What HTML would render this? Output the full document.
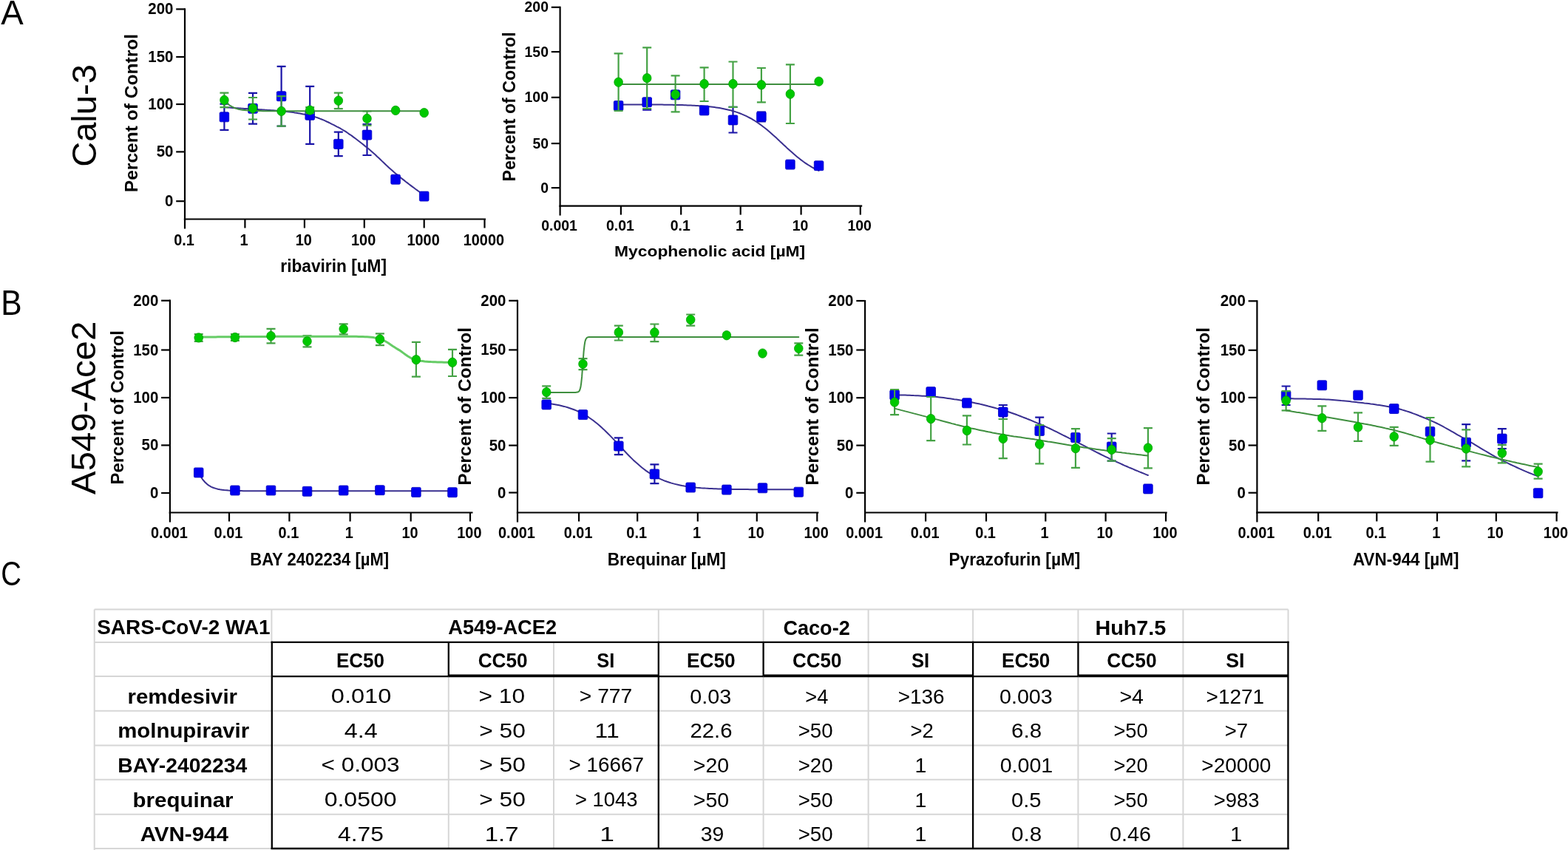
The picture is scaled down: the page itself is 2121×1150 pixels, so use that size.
<!DOCTYPE html>
<html><head><meta charset="utf-8"><title>Figure</title><style>html,body{margin:0;padding:0;background:#fff;}svg{display:block;}#fig{width:2121px;height:1150px;}text{font-family:"Liberation Sans",Arial,sans-serif;}</style></head><body>
<div id="fig"><svg width="2121" height="1150" viewBox="0 0 2121 1150" font-family="'Liberation Sans', Arial, sans-serif">
<rect width="2121" height="1150" fill="#fff"/>
<text x="1.30" y="33.00" font-size="46" font-weight="normal" textLength="30.49" lengthAdjust="spacingAndGlyphs" fill="#000">A</text>
<text x="1.31" y="426.20" font-size="47.5" font-weight="normal" textLength="28.30" lengthAdjust="spacingAndGlyphs" fill="#000">B</text>
<text x="1.19" y="792.30" font-size="47" font-weight="normal" textLength="27.64" lengthAdjust="spacingAndGlyphs" fill="#000">C</text>
<text transform="translate(129.60,225.86) rotate(-90)" x="0" y="0" font-size="46" font-weight="normal" textLength="138.80" lengthAdjust="spacingAndGlyphs">Calu-3</text>
<text transform="translate(129.10,668.90) rotate(-90)" x="0" y="0" font-size="46" font-weight="normal" textLength="234.16" lengthAdjust="spacingAndGlyphs">A549-Ace2</text>
<g stroke="#000" stroke-width="2.2" fill="none" stroke-linecap="butt">
<path d="M250.0 11.3 V297.6"/>
<path d="M248.9 296.5 H657.0"/>
<path d="M238.2 12.4 H250.0"/>
<path d="M238.2 77.0 H250.0"/>
<path d="M238.2 141.0 H250.0"/>
<path d="M238.2 205.4 H250.0"/>
<path d="M238.2 272.2 H250.0"/>
<path d="M250.0 296.5 V309.5"/>
<path d="M331.4 296.5 V308.5"/>
<path d="M411.9 296.5 V308.5"/>
<path d="M492.8 296.5 V308.5"/>
<path d="M573.7 296.5 V308.5"/>
<path d="M655.5 296.5 V308.5"/>
</g>
<text x="200.27" y="19.44" font-size="21.3" font-weight="bold" textLength="34.12" lengthAdjust="spacingAndGlyphs" fill="#000">200</text>
<text x="200.27" y="84.04" font-size="21.3" font-weight="bold" textLength="34.12" lengthAdjust="spacingAndGlyphs" fill="#000">150</text>
<text x="200.27" y="148.04" font-size="21.3" font-weight="bold" textLength="34.12" lengthAdjust="spacingAndGlyphs" fill="#000">100</text>
<text x="211.67" y="212.44" font-size="21.3" font-weight="bold" textLength="22.75" lengthAdjust="spacingAndGlyphs" fill="#000">50</text>
<text x="223.02" y="279.24" font-size="21.3" font-weight="bold" textLength="11.37" lengthAdjust="spacingAndGlyphs" fill="#000">0</text>
<text x="235.13" y="331.60" font-size="21.3" font-weight="bold" textLength="27.69" lengthAdjust="spacingAndGlyphs" fill="#000">0.1</text>
<text x="324.60" y="331.60" font-size="21.3" font-weight="bold" textLength="11.08" lengthAdjust="spacingAndGlyphs" fill="#000">1</text>
<text x="399.70" y="331.60" font-size="21.3" font-weight="bold" textLength="22.15" lengthAdjust="spacingAndGlyphs" fill="#000">10</text>
<text x="475.05" y="331.60" font-size="21.3" font-weight="bold" textLength="33.23" lengthAdjust="spacingAndGlyphs" fill="#000">100</text>
<text x="550.42" y="331.60" font-size="21.3" font-weight="bold" textLength="44.31" lengthAdjust="spacingAndGlyphs" fill="#000">1000</text>
<text x="626.67" y="331.60" font-size="21.3" font-weight="bold" textLength="55.38" lengthAdjust="spacingAndGlyphs" fill="#000">10000</text>
<text transform="translate(186.30,260.20) rotate(-90)" x="0" y="0" font-size="23.5" font-weight="bold" textLength="214.23" lengthAdjust="spacingAndGlyphs">Percent of Control</text>
<text x="379.32" y="367.70" font-size="23.5" font-weight="bold" textLength="143.75" lengthAdjust="spacingAndGlyphs" fill="#000">ribavirin [uM]</text>
<path d="M303.4 140.7 V175.9 M297.4 140.7 H309.4 M297.4 175.9 H309.4" stroke="#1a14a8" stroke-width="2.2" fill="none"/>
<path d="M342.0 125.9 V167.7 M336.0 125.9 H348.0 M336.0 167.7 H348.0" stroke="#1a14a8" stroke-width="2.2" fill="none"/>
<path d="M380.6 89.8 V170.6 M374.6 89.8 H386.6 M374.6 170.6 H386.6" stroke="#1a14a8" stroke-width="2.2" fill="none"/>
<path d="M419.2 116.8 V194.8 M413.2 116.8 H425.2 M413.2 194.8 H425.2" stroke="#1a14a8" stroke-width="2.2" fill="none"/>
<path d="M457.8 178.6 V211.2 M451.8 178.6 H463.8 M451.8 211.2 H463.8" stroke="#1a14a8" stroke-width="2.2" fill="none"/>
<path d="M496.5 168.0 V210.0 M490.5 168.0 H502.5 M490.5 210.0 H502.5" stroke="#1a14a8" stroke-width="2.2" fill="none"/>
<path d="M303.5 145.2 L305.8 145.3 L308.0 145.5 L310.3 145.6 L312.6 145.7 L314.9 145.9 L317.1 146.0 L319.4 146.2 L321.7 146.3 L323.9 146.4 L326.2 146.6 L328.5 146.7 L330.7 146.9 L333.0 147.0 L335.3 147.2 L337.6 147.3 L339.8 147.5 L342.1 147.6 L344.4 147.8 L346.6 147.9 L348.9 148.0 L351.2 148.2 L353.5 148.3 L355.7 148.4 L358.0 148.6 L360.3 148.7 L362.5 148.9 L364.8 149.0 L367.1 149.2 L369.3 149.3 L371.6 149.5 L373.9 149.7 L376.2 149.9 L378.4 150.1 L380.7 150.3 L383.0 150.5 L385.2 150.7 L387.5 151.0 L389.8 151.2 L392.1 151.5 L394.3 151.8 L396.6 152.1 L398.9 152.5 L401.1 152.8 L403.4 153.2 L405.7 153.6 L407.9 154.0 L410.2 154.4 L412.5 154.8 L414.8 155.3 L417.0 155.8 L419.3 156.3 L421.6 156.9 L423.8 157.5 L426.1 158.2 L428.4 158.9 L430.7 159.7 L432.9 160.6 L435.2 161.5 L437.5 162.4 L439.7 163.4 L442.0 164.5 L444.3 165.5 L446.5 166.6 L448.8 167.8 L451.1 168.9 L453.4 170.1 L455.6 171.3 L457.9 172.4 L460.2 173.7 L462.4 175.0 L464.7 176.3 L467.0 177.7 L469.3 179.2 L471.5 180.8 L473.8 182.3 L476.1 183.9 L478.3 185.6 L480.6 187.3 L482.9 189.0 L485.1 190.7 L487.4 192.5 L489.7 194.3 L492.0 196.1 L494.2 197.9 L496.5 199.7 L498.8 201.5 L501.0 203.4 L503.3 205.4 L505.6 207.5 L507.9 209.5 L510.1 211.7 L512.4 213.8 L514.7 216.0 L516.9 218.1 L519.2 220.3 L521.5 222.5 L523.7 224.6 L526.0 226.7 L528.3 228.8 L530.6 230.8 L532.8 232.8 L535.1 234.7 L537.4 236.6 L539.6 238.4 L541.9 240.3 L544.2 242.1 L546.5 243.9 L548.7 245.7 L551.0 247.4 L553.3 249.2 L555.5 250.9 L557.8 252.6 L560.1 254.3 L562.3 256.0 L564.6 257.6 L566.9 259.2 L569.2 260.8 L571.4 262.4 L573.7 264.0" stroke="#3a3090" stroke-width="2.0" fill="none" stroke-linejoin="round" stroke-linecap="round"/>
<rect x="297.1" y="151.8" width="12.6" height="13.0" rx="1.5" fill="#0000f0" stroke="#0000c0" stroke-width="0.8"/>
<rect x="335.7" y="140.3" width="12.6" height="13.0" rx="1.5" fill="#0000f0" stroke="#0000c0" stroke-width="0.8"/>
<rect x="374.3" y="123.7" width="12.6" height="13.0" rx="1.5" fill="#0000f0" stroke="#0000c0" stroke-width="0.8"/>
<rect x="412.9" y="149.3" width="12.6" height="13.0" rx="1.5" fill="#0000f0" stroke="#0000c0" stroke-width="0.8"/>
<rect x="451.5" y="188.4" width="12.6" height="13.0" rx="1.5" fill="#0000f0" stroke="#0000c0" stroke-width="0.8"/>
<rect x="490.2" y="176.1" width="12.6" height="13.0" rx="1.5" fill="#0000f0" stroke="#0000c0" stroke-width="0.8"/>
<rect x="528.8" y="236.2" width="12.6" height="13.0" rx="1.5" fill="#0000f0" stroke="#0000c0" stroke-width="0.8"/>
<rect x="567.4" y="259.1" width="12.6" height="13.0" rx="1.5" fill="#0000f0" stroke="#0000c0" stroke-width="0.8"/>
<path d="M303.4 125.7 V145.1 M297.4 125.7 H309.4 M297.4 145.1 H309.4" stroke="#45a245" stroke-width="2.2" fill="none"/>
<path d="M342.0 132.0 V161.5 M336.0 132.0 H348.0 M336.0 161.5 H348.0" stroke="#45a245" stroke-width="2.2" fill="none"/>
<path d="M380.6 130.1 V170.7 M374.6 130.1 H386.6 M374.6 170.7 H386.6" stroke="#45a245" stroke-width="2.2" fill="none"/>
<path d="M419.2 145.0 V153.2 M413.2 145.0 H425.2 M413.2 153.2 H425.2" stroke="#45a245" stroke-width="2.2" fill="none"/>
<path d="M457.8 125.7 V147.2 M451.8 125.7 H463.8 M451.8 147.2 H463.8" stroke="#45a245" stroke-width="2.2" fill="none"/>
<path d="M496.5 150.5 V169.6 M490.5 150.5 H502.5 M490.5 169.6 H502.5" stroke="#45a245" stroke-width="2.2" fill="none"/>
<path d="M303.5 135.3 L306.2 138.6 L309.0 141.2 L311.7 143.2 L314.4 144.7 L317.1 146.0 L319.9 146.9 L322.6 147.7 L325.3 148.2 L328.1 148.7 L330.8 149.0 L333.5 149.3 L336.3 149.5 L339.0 149.7 L341.7 149.8 L344.4 149.9 L347.2 150.0 L349.9 150.1 L352.6 150.1 L355.4 150.2 L358.1 150.2 L360.8 150.2 L363.5 150.2 L366.3 150.3 L369.0 150.3 L371.7 150.3 L374.5 150.3 L377.2 150.3 L379.9 150.3 L382.6 150.3 L385.4 150.3 L388.1 150.3 L390.8 150.3 L393.6 150.3 L396.3 150.3 L399.0 150.3 L401.8 150.3 L404.5 150.3 L407.2 150.3 L409.9 150.3 L412.7 150.3 L415.4 150.3 L418.1 150.3 L420.9 150.3 L423.6 150.3 L426.3 150.3 L429.0 150.3 L431.8 150.3 L434.5 150.3 L437.2 150.3 L440.0 150.3 L442.7 150.3 L445.4 150.3 L448.2 150.3 L450.9 150.3 L453.6 150.3 L456.3 150.3 L459.1 150.3 L461.8 150.3 L464.5 150.3 L467.3 150.3 L470.0 150.3 L472.7 150.3 L475.4 150.3 L478.2 150.3 L480.9 150.3 L483.6 150.3 L486.4 150.3 L489.1 150.3 L491.8 150.3 L494.6 150.3 L497.3 150.3 L500.0 150.3 L502.7 150.3 L505.5 150.3 L508.2 150.3 L510.9 150.3 L513.7 150.3 L516.4 150.3 L519.1 150.3 L521.8 150.3 L524.6 150.3 L527.3 150.3 L530.0 150.3 L532.8 150.3 L535.5 150.3 L538.2 150.3 L540.9 150.3 L543.7 150.3 L546.4 150.3 L549.1 150.3 L551.9 150.3 L554.6 150.3 L557.3 150.3 L560.1 150.3 L562.8 150.3 L565.5 150.3 L568.2 150.3 L571.0 150.3 L573.7 150.3" stroke="#3f8f3f" stroke-width="2.0" fill="none" stroke-linejoin="round" stroke-linecap="round"/>
<ellipse cx="303.4" cy="135.4" rx="5.8" ry="6.2" fill="#00c800" stroke="#00a000" stroke-width="0.8"/>
<ellipse cx="342.0" cy="146.5" rx="5.8" ry="6.2" fill="#00c800" stroke="#00a000" stroke-width="0.8"/>
<ellipse cx="380.6" cy="150.4" rx="5.8" ry="6.2" fill="#00c800" stroke="#00a000" stroke-width="0.8"/>
<ellipse cx="419.2" cy="149.1" rx="5.8" ry="6.2" fill="#00c800" stroke="#00a000" stroke-width="0.8"/>
<ellipse cx="457.8" cy="136.2" rx="5.8" ry="6.2" fill="#00c800" stroke="#00a000" stroke-width="0.8"/>
<ellipse cx="496.5" cy="160.4" rx="5.8" ry="6.2" fill="#00c800" stroke="#00a000" stroke-width="0.8"/>
<ellipse cx="535.1" cy="149.4" rx="5.8" ry="6.2" fill="#00c800" stroke="#00a000" stroke-width="0.8"/>
<ellipse cx="573.7" cy="152.6" rx="5.8" ry="6.2" fill="#00c800" stroke="#00a000" stroke-width="0.8"/>
<g stroke="#000" stroke-width="2.2" fill="none" stroke-linecap="butt">
<path d="M757.6 8.7 V279.7"/>
<path d="M756.5 278.6 H1166.2"/>
<path d="M745.8 9.8 H757.6"/>
<path d="M745.8 70.1 H757.6"/>
<path d="M745.8 131.8 H757.6"/>
<path d="M745.8 194.1 H757.6"/>
<path d="M745.8 254.1 H757.6"/>
<path d="M757.6 278.6 V291.6"/>
<path d="M839.9 278.6 V290.6"/>
<path d="M921.2 278.6 V290.6"/>
<path d="M1001.7 278.6 V290.6"/>
<path d="M1083.6 278.6 V290.6"/>
<path d="M1163.8 278.6 V290.6"/>
</g>
<text x="709.58" y="16.38" font-size="20" font-weight="bold" textLength="32.37" lengthAdjust="spacingAndGlyphs" fill="#000">200</text>
<text x="709.58" y="76.68" font-size="20" font-weight="bold" textLength="32.37" lengthAdjust="spacingAndGlyphs" fill="#000">150</text>
<text x="709.58" y="138.38" font-size="20" font-weight="bold" textLength="32.37" lengthAdjust="spacingAndGlyphs" fill="#000">100</text>
<text x="720.39" y="200.68" font-size="20" font-weight="bold" textLength="21.58" lengthAdjust="spacingAndGlyphs" fill="#000">50</text>
<text x="731.16" y="260.68" font-size="20" font-weight="bold" textLength="10.79" lengthAdjust="spacingAndGlyphs" fill="#000">0</text>
<text x="732.18" y="312.40" font-size="20" font-weight="bold" textLength="48.80" lengthAdjust="spacingAndGlyphs" fill="#000">0.001</text>
<text x="819.91" y="312.40" font-size="20" font-weight="bold" textLength="37.95" lengthAdjust="spacingAndGlyphs" fill="#000">0.01</text>
<text x="906.63" y="312.40" font-size="20" font-weight="bold" textLength="27.11" lengthAdjust="spacingAndGlyphs" fill="#000">0.1</text>
<text x="995.02" y="312.40" font-size="20" font-weight="bold" textLength="10.85" lengthAdjust="spacingAndGlyphs" fill="#000">1</text>
<text x="1071.63" y="312.40" font-size="20" font-weight="bold" textLength="21.69" lengthAdjust="spacingAndGlyphs" fill="#000">10</text>
<text x="1146.40" y="312.40" font-size="20" font-weight="bold" textLength="32.54" lengthAdjust="spacingAndGlyphs" fill="#000">100</text>
<text transform="translate(697.00,245.51) rotate(-90)" x="0" y="0" font-size="23.5" font-weight="bold" textLength="202.14" lengthAdjust="spacingAndGlyphs">Percent of Control</text>
<text x="831.01" y="347.10" font-size="20.5" font-weight="bold" textLength="258.23" lengthAdjust="spacingAndGlyphs" fill="#000">Mycophenolic acid [µM]</text>
<path d="M836.6 139.5 V146.5 M830.6 139.5 H842.6 M830.6 146.5 H842.6" stroke="#1a14a8" stroke-width="2.2" fill="none"/>
<path d="M875.2 133.0 V148.7 M869.2 133.0 H881.2 M869.2 148.7 H881.2" stroke="#1a14a8" stroke-width="2.2" fill="none"/>
<path d="M913.6 124.0 V132.6 M907.6 124.0 H919.6 M907.6 132.6 H919.6" stroke="#1a14a8" stroke-width="2.2" fill="none"/>
<path d="M952.6 146.0 V152.8 M946.6 146.0 H958.6 M946.6 152.8 H958.6" stroke="#1a14a8" stroke-width="2.2" fill="none"/>
<path d="M991.5 144.8 V179.5 M985.5 144.8 H997.5 M985.5 179.5 H997.5" stroke="#1a14a8" stroke-width="2.2" fill="none"/>
<path d="M1029.9 151.5 V164.5 M1023.9 151.5 H1035.9 M1023.9 164.5 H1035.9" stroke="#1a14a8" stroke-width="2.2" fill="none"/>
<path d="M836.6 141.4 L838.9 141.4 L841.2 141.4 L843.4 141.4 L845.7 141.4 L848.0 141.4 L850.3 141.4 L852.5 141.4 L854.8 141.4 L857.1 141.4 L859.4 141.4 L861.7 141.4 L863.9 141.4 L866.2 141.4 L868.5 141.4 L870.8 141.4 L873.0 141.5 L875.3 141.5 L877.6 141.5 L879.9 141.5 L882.1 141.5 L884.4 141.5 L886.7 141.5 L889.0 141.6 L891.3 141.6 L893.5 141.6 L895.8 141.6 L898.1 141.7 L900.4 141.7 L902.6 141.7 L904.9 141.7 L907.2 141.8 L909.5 141.8 L911.8 141.9 L914.0 141.9 L916.3 142.0 L918.6 142.0 L920.9 142.1 L923.1 142.1 L925.4 142.2 L927.7 142.3 L930.0 142.4 L932.2 142.5 L934.5 142.5 L936.8 142.7 L939.1 142.8 L941.4 142.9 L943.6 143.0 L945.9 143.2 L948.2 143.3 L950.5 143.5 L952.7 143.7 L955.0 143.9 L957.3 144.1 L959.6 144.3 L961.9 144.5 L964.1 144.8 L966.4 145.1 L968.7 145.4 L971.0 145.7 L973.2 146.1 L975.5 146.5 L977.8 146.9 L980.1 147.4 L982.3 147.9 L984.6 148.4 L986.9 148.9 L989.2 149.5 L991.5 150.2 L993.7 150.9 L996.0 151.6 L998.3 152.4 L1000.6 153.2 L1002.8 154.1 L1005.1 155.1 L1007.4 156.1 L1009.7 157.1 L1012.0 158.3 L1014.2 159.5 L1016.5 160.7 L1018.8 162.1 L1021.1 163.5 L1023.3 164.9 L1025.6 166.5 L1027.9 168.1 L1030.2 169.7 L1032.4 171.5 L1034.7 173.2 L1037.0 175.1 L1039.3 177.0 L1041.6 178.9 L1043.8 180.9 L1046.1 183.0 L1048.4 185.0 L1050.7 187.1 L1052.9 189.2 L1055.2 191.4 L1057.5 193.5 L1059.8 195.7 L1062.1 197.8 L1064.3 199.9 L1066.6 202.0 L1068.9 204.1 L1071.2 206.1 L1073.4 208.1 L1075.7 210.0 L1078.0 211.9 L1080.3 213.8 L1082.5 215.6 L1084.8 217.3 L1087.1 219.0 L1089.4 220.6 L1091.7 222.1 L1093.9 223.5 L1096.2 224.9 L1098.5 226.3 L1100.8 227.5 L1103.0 228.7 L1105.3 229.9 L1107.6 230.9" stroke="#3a3090" stroke-width="2.0" fill="none" stroke-linejoin="round" stroke-linecap="round"/>
<rect x="830.3" y="136.5" width="12.6" height="13.0" rx="1.5" fill="#0000f0" stroke="#0000c0" stroke-width="0.8"/>
<rect x="868.9" y="131.7" width="12.6" height="13.0" rx="1.5" fill="#0000f0" stroke="#0000c0" stroke-width="0.8"/>
<rect x="907.3" y="121.8" width="12.6" height="13.0" rx="1.5" fill="#0000f0" stroke="#0000c0" stroke-width="0.8"/>
<rect x="946.3" y="142.9" width="12.6" height="13.0" rx="1.5" fill="#0000f0" stroke="#0000c0" stroke-width="0.8"/>
<rect x="985.2" y="155.9" width="12.6" height="13.0" rx="1.5" fill="#0000f0" stroke="#0000c0" stroke-width="0.8"/>
<rect x="1023.6" y="151.3" width="12.6" height="13.0" rx="1.5" fill="#0000f0" stroke="#0000c0" stroke-width="0.8"/>
<rect x="1062.6" y="216.1" width="12.6" height="13.0" rx="1.5" fill="#0000f0" stroke="#0000c0" stroke-width="0.8"/>
<rect x="1101.3" y="217.7" width="12.6" height="13.0" rx="1.5" fill="#0000f0" stroke="#0000c0" stroke-width="0.8"/>
<path d="M836.6 72.4 V150.0 M830.6 72.4 H842.6 M830.6 150.0 H842.6" stroke="#45a245" stroke-width="2.2" fill="none"/>
<path d="M875.2 64.4 V147.0 M869.2 64.4 H881.2 M869.2 147.0 H881.2" stroke="#45a245" stroke-width="2.2" fill="none"/>
<path d="M913.6 102.4 V151.3 M907.6 102.4 H919.6 M907.6 151.3 H919.6" stroke="#45a245" stroke-width="2.2" fill="none"/>
<path d="M952.6 91.3 V137.0 M946.6 91.3 H958.6 M946.6 137.0 H958.6" stroke="#45a245" stroke-width="2.2" fill="none"/>
<path d="M991.5 83.5 V144.8 M985.5 83.5 H997.5 M985.5 144.8 H997.5" stroke="#45a245" stroke-width="2.2" fill="none"/>
<path d="M1029.9 92.0 V138.3 M1023.9 92.0 H1035.9 M1023.9 138.3 H1035.9" stroke="#45a245" stroke-width="2.2" fill="none"/>
<path d="M1068.9 87.4 V167.0 M1062.9 87.4 H1074.9 M1062.9 167.0 H1074.9" stroke="#45a245" stroke-width="2.2" fill="none"/>
<path d="M836.6 114.1 L1107.6 114.1" stroke="#3f8f3f" stroke-width="2.0" fill="none" stroke-linejoin="round" stroke-linecap="round"/>
<ellipse cx="836.6" cy="111.2" rx="5.8" ry="6.2" fill="#00c800" stroke="#00a000" stroke-width="0.8"/>
<ellipse cx="875.2" cy="105.7" rx="5.8" ry="6.2" fill="#00c800" stroke="#00a000" stroke-width="0.8"/>
<ellipse cx="913.6" cy="127.8" rx="5.8" ry="6.2" fill="#00c800" stroke="#00a000" stroke-width="0.8"/>
<ellipse cx="952.6" cy="113.5" rx="5.8" ry="6.2" fill="#00c800" stroke="#00a000" stroke-width="0.8"/>
<ellipse cx="991.5" cy="113.5" rx="5.8" ry="6.2" fill="#00c800" stroke="#00a000" stroke-width="0.8"/>
<ellipse cx="1029.9" cy="114.8" rx="5.8" ry="6.2" fill="#00c800" stroke="#00a000" stroke-width="0.8"/>
<ellipse cx="1068.9" cy="127.2" rx="5.8" ry="6.2" fill="#00c800" stroke="#00a000" stroke-width="0.8"/>
<ellipse cx="1107.6" cy="110.2" rx="5.8" ry="6.2" fill="#00c800" stroke="#00a000" stroke-width="0.8"/>
<g stroke="#000" stroke-width="2.2" fill="none" stroke-linecap="butt">
<path d="M229.9 405.6 V694.6"/>
<path d="M228.8 693.5 H639.5"/>
<path d="M218.1 406.7 H229.9"/>
<path d="M218.1 473.5 H229.9"/>
<path d="M218.1 538.0 H229.9"/>
<path d="M218.1 602.4 H229.9"/>
<path d="M218.1 667.0 H229.9"/>
<path d="M229.9 693.5 V706.5"/>
<path d="M310.0 693.5 V705.5"/>
<path d="M391.4 693.5 V705.5"/>
<path d="M473.6 693.5 V705.5"/>
<path d="M555.7 693.5 V705.5"/>
<path d="M636.0 693.5 V705.5"/>
</g>
<text x="180.17" y="413.74" font-size="21.3" font-weight="bold" textLength="34.12" lengthAdjust="spacingAndGlyphs" fill="#000">200</text>
<text x="180.17" y="480.54" font-size="21.3" font-weight="bold" textLength="34.12" lengthAdjust="spacingAndGlyphs" fill="#000">150</text>
<text x="180.17" y="545.04" font-size="21.3" font-weight="bold" textLength="34.12" lengthAdjust="spacingAndGlyphs" fill="#000">100</text>
<text x="191.57" y="609.44" font-size="21.3" font-weight="bold" textLength="22.75" lengthAdjust="spacingAndGlyphs" fill="#000">50</text>
<text x="202.92" y="674.04" font-size="21.3" font-weight="bold" textLength="11.37" lengthAdjust="spacingAndGlyphs" fill="#000">0</text>
<text x="203.96" y="728.30" font-size="21.3" font-weight="bold" textLength="49.84" lengthAdjust="spacingAndGlyphs" fill="#000">0.001</text>
<text x="289.61" y="728.30" font-size="21.3" font-weight="bold" textLength="38.76" lengthAdjust="spacingAndGlyphs" fill="#000">0.01</text>
<text x="376.53" y="728.30" font-size="21.3" font-weight="bold" textLength="27.69" lengthAdjust="spacingAndGlyphs" fill="#000">0.1</text>
<text x="466.80" y="728.30" font-size="21.3" font-weight="bold" textLength="11.08" lengthAdjust="spacingAndGlyphs" fill="#000">1</text>
<text x="543.50" y="728.30" font-size="21.3" font-weight="bold" textLength="22.15" lengthAdjust="spacingAndGlyphs" fill="#000">10</text>
<text x="618.25" y="728.30" font-size="21.3" font-weight="bold" textLength="33.23" lengthAdjust="spacingAndGlyphs" fill="#000">100</text>
<text transform="translate(166.60,655.45) rotate(-90)" x="0" y="0" font-size="23.5" font-weight="bold" textLength="208.44" lengthAdjust="spacingAndGlyphs">Percent of Control</text>
<text x="338.27" y="765.30" font-size="23.5" font-weight="bold" textLength="187.86" lengthAdjust="spacingAndGlyphs" fill="#000">BAY 2402234 [µM]</text>
<path d="M268.7 639.3 L271.6 644.8 L274.5 649.2 L277.4 652.5 L280.2 655.1 L283.1 657.2 L286.0 658.8 L288.9 660.0 L291.8 660.9 L294.7 661.7 L297.5 662.3 L300.4 662.7 L303.3 663.1 L306.2 663.3 L309.1 663.6 L312.0 663.7 L314.9 663.8 L317.7 663.9 L320.6 664.0 L323.5 664.1 L326.4 664.1 L329.3 664.2 L332.2 664.2 L335.1 664.2 L337.9 664.2 L340.8 664.3 L343.7 664.3 L346.6 664.3 L349.5 664.3 L352.4 664.3 L355.2 664.3 L358.1 664.3 L361.0 664.3 L363.9 664.3 L366.8 664.3 L369.7 664.3 L372.6 664.3 L375.4 664.3 L378.3 664.3 L381.2 664.3 L384.1 664.3 L387.0 664.3 L389.9 664.3 L392.7 664.3 L395.6 664.3 L398.5 664.3 L401.4 664.3 L404.3 664.3 L407.2 664.3 L410.1 664.3 L412.9 664.3 L415.8 664.3 L418.7 664.3 L421.6 664.3 L424.5 664.3 L427.4 664.3 L430.3 664.3 L433.1 664.3 L436.0 664.3 L438.9 664.3 L441.8 664.3 L444.7 664.3 L447.6 664.3 L450.4 664.3 L453.3 664.3 L456.2 664.3 L459.1 664.3 L462.0 664.3 L464.9 664.3 L467.8 664.3 L470.6 664.3 L473.5 664.3 L476.4 664.3 L479.3 664.3 L482.2 664.3 L485.1 664.3 L488.0 664.3 L490.8 664.3 L493.7 664.3 L496.6 664.3 L499.5 664.3 L502.4 664.3 L505.3 664.3 L508.1 664.3 L511.0 664.3 L513.9 664.3 L516.8 664.3 L519.7 664.3 L522.6 664.3 L525.5 664.3 L528.3 664.3 L531.2 664.3 L534.1 664.3 L537.0 664.3 L539.9 664.3 L542.8 664.3 L545.6 664.3 L548.5 664.3 L551.4 664.3 L554.3 664.3 L557.2 664.3 L560.1 664.3 L563.0 664.3 L565.8 664.3 L568.7 664.3 L571.6 664.3 L574.5 664.3 L577.4 664.3 L580.3 664.3 L583.2 664.3 L586.0 664.3 L588.9 664.3 L591.8 664.3 L594.7 664.3 L597.6 664.3 L600.5 664.3 L603.3 664.3 L606.2 664.3 L609.1 664.3 L612.0 664.3" stroke="#3a3090" stroke-width="2.0" fill="none" stroke-linejoin="round" stroke-linecap="round"/>
<rect x="262.4" y="632.9" width="12.6" height="13.0" rx="1.5" fill="#0000f0" stroke="#0000c0" stroke-width="0.8"/>
<rect x="311.6" y="657.0" width="12.6" height="13.0" rx="1.5" fill="#0000f0" stroke="#0000c0" stroke-width="0.8"/>
<rect x="360.2" y="657.0" width="12.6" height="13.0" rx="1.5" fill="#0000f0" stroke="#0000c0" stroke-width="0.8"/>
<rect x="409.2" y="658.3" width="12.6" height="13.0" rx="1.5" fill="#0000f0" stroke="#0000c0" stroke-width="0.8"/>
<rect x="458.4" y="657.0" width="12.6" height="13.0" rx="1.5" fill="#0000f0" stroke="#0000c0" stroke-width="0.8"/>
<rect x="507.6" y="656.7" width="12.6" height="13.0" rx="1.5" fill="#0000f0" stroke="#0000c0" stroke-width="0.8"/>
<rect x="556.6" y="659.4" width="12.6" height="13.0" rx="1.5" fill="#0000f0" stroke="#0000c0" stroke-width="0.8"/>
<rect x="605.7" y="659.7" width="12.6" height="13.0" rx="1.5" fill="#0000f0" stroke="#0000c0" stroke-width="0.8"/>
<path d="M268.7 452.0 V461.8 M262.7 452.0 H274.7 M262.7 461.8 H274.7" stroke="#45a245" stroke-width="2.2" fill="none"/>
<path d="M317.9 452.0 V461.0 M311.9 452.0 H323.9 M311.9 461.0 H323.9" stroke="#45a245" stroke-width="2.2" fill="none"/>
<path d="M366.5 444.8 V464.4 M360.5 444.8 H372.5 M360.5 464.4 H372.5" stroke="#45a245" stroke-width="2.2" fill="none"/>
<path d="M415.5 454.2 V469.3 M409.5 454.2 H421.5 M409.5 469.3 H421.5" stroke="#45a245" stroke-width="2.2" fill="none"/>
<path d="M464.7 438.4 V452.3 M458.7 438.4 H470.7 M458.7 452.3 H470.7" stroke="#45a245" stroke-width="2.2" fill="none"/>
<path d="M513.9 451.3 V467.1 M507.9 451.3 H519.9 M507.9 467.1 H519.9" stroke="#45a245" stroke-width="2.2" fill="none"/>
<path d="M562.9 462.8 V509.7 M556.9 462.8 H568.9 M556.9 509.7 H568.9" stroke="#45a245" stroke-width="2.2" fill="none"/>
<path d="M612.0 472.8 V509.0 M606.0 472.8 H618.0 M606.0 509.0 H618.0" stroke="#45a245" stroke-width="2.2" fill="none"/>
<path d="M268.7 456.2 L271.6 456.2 L274.5 456.1 L277.4 456.1 L280.2 456.0 L283.1 456.0 L286.0 456.0 L288.9 455.9 L291.8 455.9 L294.7 455.8 L297.5 455.8 L300.4 455.8 L303.3 455.7 L306.2 455.7 L309.1 455.7 L312.0 455.7 L314.9 455.6 L317.7 455.6 L320.6 455.6 L323.5 455.6 L326.4 455.6 L329.3 455.5 L332.2 455.5 L335.1 455.5 L337.9 455.5 L340.8 455.5 L343.7 455.5 L346.6 455.4 L349.5 455.4 L352.4 455.4 L355.2 455.4 L358.1 455.4 L361.0 455.4 L363.9 455.3 L366.8 455.3 L369.7 455.3 L372.6 455.3 L375.4 455.3 L378.3 455.3 L381.2 455.3 L384.1 455.3 L387.0 455.3 L389.9 455.2 L392.7 455.2 L395.6 455.2 L398.5 455.2 L401.4 455.2 L404.3 455.2 L407.2 455.2 L410.1 455.2 L412.9 455.2 L415.8 455.2 L418.7 455.2 L421.6 455.2 L424.5 455.2 L427.4 455.2 L430.3 455.2 L433.1 455.2 L436.0 455.2 L438.9 455.2 L441.8 455.2 L444.7 455.2 L447.6 455.2 L450.4 455.2 L453.3 455.2 L456.2 455.2 L459.1 455.2 L462.0 455.2 L464.9 455.3 L467.8 455.3 L470.6 455.3 L473.5 455.3 L476.4 455.3 L479.3 455.3 L482.2 455.3 L485.1 455.4 L488.0 455.4 L490.8 455.5 L493.7 455.7 L496.6 455.8 L499.5 456.0 L502.4 456.2 L505.3 456.6 L508.1 457.2 L511.0 457.9 L513.9 458.6 L516.8 459.6 L519.7 460.9 L522.6 462.5 L525.5 464.3 L528.3 466.2 L531.2 468.2 L534.1 470.1 L537.0 471.9 L539.9 473.6 L542.8 475.6 L545.6 477.6 L548.5 479.7 L551.4 481.7 L554.3 483.5 L557.2 485.1 L560.1 486.4 L563.0 487.2 L565.8 487.7 L568.7 488.2 L571.6 488.6 L574.5 489.0 L577.4 489.2 L580.3 489.4 L583.2 489.6 L586.0 489.7 L588.9 489.8 L591.8 489.9 L594.7 490.0 L597.6 490.1 L600.5 490.2 L603.3 490.2 L606.2 490.3 L609.1 490.3 L612.0 490.3" stroke="#66cc66" stroke-width="3.0" fill="none" stroke-linejoin="round" stroke-linecap="round"/>
<ellipse cx="268.7" cy="456.9" rx="5.8" ry="6.2" fill="#00c800" stroke="#00a000" stroke-width="0.8"/>
<ellipse cx="317.9" cy="456.5" rx="5.8" ry="6.2" fill="#00c800" stroke="#00a000" stroke-width="0.8"/>
<ellipse cx="366.5" cy="454.6" rx="5.8" ry="6.2" fill="#00c800" stroke="#00a000" stroke-width="0.8"/>
<ellipse cx="415.5" cy="461.7" rx="5.8" ry="6.2" fill="#00c800" stroke="#00a000" stroke-width="0.8"/>
<ellipse cx="464.7" cy="445.1" rx="5.8" ry="6.2" fill="#00c800" stroke="#00a000" stroke-width="0.8"/>
<ellipse cx="513.9" cy="459.0" rx="5.8" ry="6.2" fill="#00c800" stroke="#00a000" stroke-width="0.8"/>
<ellipse cx="562.9" cy="486.7" rx="5.8" ry="6.2" fill="#00c800" stroke="#00a000" stroke-width="0.8"/>
<ellipse cx="612.0" cy="490.3" rx="5.8" ry="6.2" fill="#00c800" stroke="#00a000" stroke-width="0.8"/>
<g stroke="#000" stroke-width="2.2" fill="none" stroke-linecap="butt">
<path d="M700.0 405.7 V694.6"/>
<path d="M698.9 693.5 H1107.3"/>
<path d="M688.2 406.8 H700.0"/>
<path d="M688.2 473.4 H700.0"/>
<path d="M688.2 538.1 H700.0"/>
<path d="M688.2 602.6 H700.0"/>
<path d="M688.2 666.5 H700.0"/>
<path d="M700.0 693.5 V706.5"/>
<path d="M783.1 693.5 V705.5"/>
<path d="M862.2 693.5 V705.5"/>
<path d="M943.8 693.5 V705.5"/>
<path d="M1023.8 693.5 V705.5"/>
<path d="M1105.3 693.5 V705.5"/>
</g>
<text x="650.27" y="413.84" font-size="21.3" font-weight="bold" textLength="34.12" lengthAdjust="spacingAndGlyphs" fill="#000">200</text>
<text x="650.27" y="480.44" font-size="21.3" font-weight="bold" textLength="34.12" lengthAdjust="spacingAndGlyphs" fill="#000">150</text>
<text x="650.27" y="545.14" font-size="21.3" font-weight="bold" textLength="34.12" lengthAdjust="spacingAndGlyphs" fill="#000">100</text>
<text x="661.67" y="609.64" font-size="21.3" font-weight="bold" textLength="22.75" lengthAdjust="spacingAndGlyphs" fill="#000">50</text>
<text x="673.02" y="673.54" font-size="21.3" font-weight="bold" textLength="11.37" lengthAdjust="spacingAndGlyphs" fill="#000">0</text>
<text x="674.06" y="728.30" font-size="21.3" font-weight="bold" textLength="49.84" lengthAdjust="spacingAndGlyphs" fill="#000">0.001</text>
<text x="762.71" y="728.30" font-size="21.3" font-weight="bold" textLength="38.76" lengthAdjust="spacingAndGlyphs" fill="#000">0.01</text>
<text x="847.33" y="728.30" font-size="21.3" font-weight="bold" textLength="27.69" lengthAdjust="spacingAndGlyphs" fill="#000">0.1</text>
<text x="937.00" y="728.30" font-size="21.3" font-weight="bold" textLength="11.08" lengthAdjust="spacingAndGlyphs" fill="#000">1</text>
<text x="1011.60" y="728.30" font-size="21.3" font-weight="bold" textLength="22.15" lengthAdjust="spacingAndGlyphs" fill="#000">10</text>
<text x="1087.55" y="728.30" font-size="21.3" font-weight="bold" textLength="33.23" lengthAdjust="spacingAndGlyphs" fill="#000">100</text>
<text transform="translate(636.70,656.69) rotate(-90)" x="0" y="0" font-size="23.5" font-weight="bold" textLength="213.82" lengthAdjust="spacingAndGlyphs">Percent of Control</text>
<text x="821.63" y="765.40" font-size="23.5" font-weight="bold" textLength="160.25" lengthAdjust="spacingAndGlyphs" fill="#000">Brequinar [µM]</text>
<path d="M836.8 592.4 V615.2 M830.8 592.4 H842.8 M830.8 615.2 H842.8" stroke="#1a14a8" stroke-width="2.2" fill="none"/>
<path d="M885.4 628.3 V654.2 M879.4 628.3 H891.4 M879.4 654.2 H891.4" stroke="#1a14a8" stroke-width="2.2" fill="none"/>
<path d="M739.2 545.5 L742.1 545.9 L744.9 546.3 L747.8 546.7 L750.7 547.2 L753.5 547.7 L756.4 548.3 L759.3 549.0 L762.1 549.7 L765.0 550.4 L767.9 551.3 L770.7 552.2 L773.6 553.2 L776.5 554.3 L779.3 555.4 L782.2 556.7 L785.1 558.1 L787.9 559.6 L790.8 561.2 L793.7 562.9 L796.5 564.7 L799.4 566.7 L802.3 568.8 L805.1 571.0 L808.0 573.3 L810.9 575.7 L813.7 578.3 L816.6 580.9 L819.5 583.7 L822.3 586.5 L825.2 589.4 L828.1 592.4 L830.9 595.4 L833.8 598.5 L836.7 601.6 L839.5 604.6 L842.4 607.7 L845.3 610.8 L848.1 613.8 L851.0 616.7 L853.9 619.6 L856.7 622.4 L859.6 625.1 L862.5 627.6 L865.3 630.1 L868.2 632.5 L871.1 634.7 L873.9 636.9 L876.8 638.9 L879.7 640.7 L882.5 642.5 L885.4 644.1 L888.3 645.7 L891.1 647.1 L894.0 648.4 L896.9 649.6 L899.7 650.8 L902.6 651.8 L905.5 652.7 L908.3 653.6 L911.2 654.4 L914.0 655.1 L916.9 655.8 L919.8 656.4 L922.6 657.0 L925.5 657.5 L928.4 657.9 L931.2 658.4 L934.1 658.7 L937.0 659.1 L939.8 659.4 L942.7 659.7 L945.6 659.9 L948.4 660.2 L951.3 660.4 L954.2 660.6 L957.0 660.7 L959.9 660.9 L962.8 661.0 L965.6 661.2 L968.5 661.3 L971.4 661.4 L974.2 661.5 L977.1 661.6 L980.0 661.7 L982.8 661.7 L985.7 661.8 L988.6 661.8 L991.4 661.9 L994.3 661.9 L997.2 662.0 L1000.0 662.0 L1002.9 662.1 L1005.8 662.1 L1008.6 662.1 L1011.5 662.1 L1014.4 662.2 L1017.2 662.2 L1020.1 662.2 L1023.0 662.2 L1025.8 662.2 L1028.7 662.2 L1031.6 662.3 L1034.4 662.3 L1037.3 662.3 L1040.2 662.3 L1043.0 662.3 L1045.9 662.3 L1048.8 662.3 L1051.6 662.3 L1054.5 662.3 L1057.4 662.3 L1060.2 662.3 L1063.1 662.3 L1066.0 662.3 L1068.8 662.3 L1071.7 662.3 L1074.6 662.4 L1077.4 662.4 L1080.3 662.4" stroke="#3a3090" stroke-width="2.0" fill="none" stroke-linejoin="round" stroke-linecap="round"/>
<rect x="732.9" y="540.9" width="12.6" height="13.0" rx="1.5" fill="#0000f0" stroke="#0000c0" stroke-width="0.8"/>
<rect x="782.2" y="554.6" width="12.6" height="13.0" rx="1.5" fill="#0000f0" stroke="#0000c0" stroke-width="0.8"/>
<rect x="830.5" y="597.0" width="12.6" height="13.0" rx="1.5" fill="#0000f0" stroke="#0000c0" stroke-width="0.8"/>
<rect x="879.1" y="634.9" width="12.6" height="13.0" rx="1.5" fill="#0000f0" stroke="#0000c0" stroke-width="0.8"/>
<rect x="927.9" y="653.0" width="12.6" height="13.0" rx="1.5" fill="#0000f0" stroke="#0000c0" stroke-width="0.8"/>
<rect x="976.6" y="656.1" width="12.6" height="13.0" rx="1.5" fill="#0000f0" stroke="#0000c0" stroke-width="0.8"/>
<rect x="1025.2" y="653.8" width="12.6" height="13.0" rx="1.5" fill="#0000f0" stroke="#0000c0" stroke-width="0.8"/>
<rect x="1074.0" y="659.2" width="12.6" height="13.0" rx="1.5" fill="#0000f0" stroke="#0000c0" stroke-width="0.8"/>
<path d="M739.2 522.4 V538.8 M733.2 522.4 H745.2 M733.2 538.8 H745.2" stroke="#45a245" stroke-width="2.2" fill="none"/>
<path d="M788.5 485.2 V500.2 M782.5 485.2 H794.5 M782.5 500.2 H794.5" stroke="#45a245" stroke-width="2.2" fill="none"/>
<path d="M836.8 440.6 V460.5 M830.8 440.6 H842.8 M830.8 460.5 H842.8" stroke="#45a245" stroke-width="2.2" fill="none"/>
<path d="M885.4 438.5 V462.2 M879.4 438.5 H891.4 M879.4 462.2 H891.4" stroke="#45a245" stroke-width="2.2" fill="none"/>
<path d="M934.2 425.5 V440.7 M928.2 425.5 H940.2 M928.2 440.7 H940.2" stroke="#45a245" stroke-width="2.2" fill="none"/>
<path d="M1080.3 464.4 V480.6 M1074.3 464.4 H1086.3 M1074.3 480.6 H1086.3" stroke="#45a245" stroke-width="2.2" fill="none"/>
<path d="M739.2 530.9 L740.1 530.9 L740.9 530.9 L741.8 530.9 L742.6 530.9 L743.5 530.9 L744.3 530.9 L745.2 530.9 L746.0 530.9 L746.9 530.9 L747.7 530.9 L748.6 530.9 L749.5 530.9 L750.3 530.9 L751.2 530.9 L752.0 530.9 L752.9 530.9 L753.7 530.9 L754.6 530.9 L755.4 530.9 L756.3 530.9 L757.2 530.9 L758.0 530.9 L758.9 530.9 L759.7 530.9 L760.6 530.9 L761.4 530.9 L762.3 530.9 L763.1 530.9 L764.0 530.9 L764.8 530.9 L765.7 530.9 L766.6 530.9 L767.4 530.9 L768.3 530.9 L769.1 530.9 L770.0 530.9 L770.8 530.9 L771.7 530.9 L772.5 530.9 L773.4 530.9 L774.3 530.9 L775.1 530.9 L776.0 530.9 L776.8 530.9 L777.7 530.9 L778.5 530.9 L779.4 530.8 L780.2 530.7 L781.1 530.6 L781.9 530.3 L782.8 529.8 L783.7 528.9 L784.5 527.0 L785.4 523.8 L786.2 518.3 L787.1 509.9 L787.9 498.7 L788.8 486.5 L789.6 475.6 L790.5 467.6 L791.3 462.5 L792.2 459.4 L793.1 457.8 L793.9 456.9 L794.8 456.4 L795.6 456.2 L796.5 456.0 L797.3 456.0 L798.2 455.9 L799.0 455.9 L799.9 455.9 L800.8 455.9 L801.6 455.9 L802.5 455.9 L803.3 455.9 L804.2 455.9 L805.0 455.9 L805.9 455.9 L806.7 455.9 L807.6 455.9 L808.4 455.9 L809.3 455.9 L810.2 455.9 L811.0 455.9 L811.9 455.9 L812.7 455.9 L813.6 455.9 L814.4 455.9 L815.3 455.9 L816.1 455.9 L817.0 455.9 L817.8 455.9 L818.7 455.9 L819.6 455.9 L820.4 455.9 L821.3 455.9 L822.1 455.9 L823.0 455.9 L823.8 455.9 L824.7 455.9 L825.5 455.9 L826.4 455.9 L827.3 455.9 L828.1 455.9 L829.0 455.9 L829.8 455.9 L830.7 455.9 L831.5 455.9 L832.4 455.9 L833.2 455.9 L834.1 455.9 L834.9 455.9 L835.8 455.9 L836.7 455.9 L837.5 455.9 L838.4 455.9 L839.2 455.9 L840.1 455.9 L840.9 455.9 L841.8 455.9 L842.6 455.9 L843.5 455.9 L844.4 455.9 L845.2 455.9 L846.1 455.9 L846.9 455.9 L847.8 455.9 L848.6 455.9 L849.5 455.9 L850.3 455.9 L851.2 455.9 L852.0 455.9 L852.9 455.9 L853.8 455.9 L854.6 455.9 L855.5 455.9 L856.3 455.9 L857.2 455.9 L858.0 455.9 L858.9 455.9 L859.7 455.9 L860.6 455.9 L861.4 455.9 L862.3 455.9 L863.2 455.9 L864.0 455.9 L864.9 455.9 L865.7 455.9 L866.6 455.9 L867.4 455.9 L868.3 455.9 L869.1 455.9 L870.0 455.9 L870.9 455.9 L871.7 455.9 L872.6 455.9 L873.4 455.9 L874.3 455.9 L875.1 455.9 L876.0 455.9 L876.8 455.9 L877.7 455.9 L878.5 455.9 L879.4 455.9 L880.3 455.9 L881.1 455.9 L882.0 455.9 L882.8 455.9 L883.7 455.9 L884.5 455.9 L885.4 455.9 L886.2 455.9 L887.1 455.9 L888.0 455.9 L888.8 455.9 L889.7 455.9 L890.5 455.9 L891.4 455.9 L892.2 455.9 L893.1 455.9 L893.9 455.9 L894.8 455.9 L895.6 455.9 L896.5 455.9 L897.4 455.9 L898.2 455.9 L899.1 455.9 L899.9 455.9 L900.8 455.9 L901.6 455.9 L902.5 455.9 L903.3 455.9 L904.2 455.9 L905.0 455.9 L905.9 455.9 L906.8 455.9 L907.6 455.9 L908.5 455.9 L909.3 455.9 L910.2 455.9 L911.0 455.9 L911.9 455.9 L912.7 455.9 L913.6 455.9 L914.5 455.9 L915.3 455.9 L916.2 455.9 L917.0 455.9 L917.9 455.9 L918.7 455.9 L919.6 455.9 L920.4 455.9 L921.3 455.9 L922.1 455.9 L923.0 455.9 L923.9 455.9 L924.7 455.9 L925.6 455.9 L926.4 455.9 L927.3 455.9 L928.1 455.9 L929.0 455.9 L929.8 455.9 L930.7 455.9 L931.5 455.9 L932.4 455.9 L933.3 455.9 L934.1 455.9 L935.0 455.9 L935.8 455.9 L936.7 455.9 L937.5 455.9 L938.4 455.9 L939.2 455.9 L940.1 455.9 L941.0 455.9 L941.8 455.9 L942.7 455.9 L943.5 455.9 L944.4 455.9 L945.2 455.9 L946.1 455.9 L946.9 455.9 L947.8 455.9 L948.6 455.9 L949.5 455.9 L950.4 455.9 L951.2 455.9 L952.1 455.9 L952.9 455.9 L953.8 455.9 L954.6 455.9 L955.5 455.9 L956.3 455.9 L957.2 455.9 L958.1 455.9 L958.9 455.9 L959.8 455.9 L960.6 455.9 L961.5 455.9 L962.3 455.9 L963.2 455.9 L964.0 455.9 L964.9 455.9 L965.7 455.9 L966.6 455.9 L967.5 455.9 L968.3 455.9 L969.2 455.9 L970.0 455.9 L970.9 455.9 L971.7 455.9 L972.6 455.9 L973.4 455.9 L974.3 455.9 L975.1 455.9 L976.0 455.9 L976.9 455.9 L977.7 455.9 L978.6 455.9 L979.4 455.9 L980.3 455.9 L981.1 455.9 L982.0 455.9 L982.8 455.9 L983.7 455.9 L984.6 455.9 L985.4 455.9 L986.3 455.9 L987.1 455.9 L988.0 455.9 L988.8 455.9 L989.7 455.9 L990.5 455.9 L991.4 455.9 L992.2 455.9 L993.1 455.9 L994.0 455.9 L994.8 455.9 L995.7 455.9 L996.5 455.9 L997.4 455.9 L998.2 455.9 L999.1 455.9 L999.9 455.9 L1000.8 455.9 L1001.7 455.9 L1002.5 455.9 L1003.4 455.9 L1004.2 455.9 L1005.1 455.9 L1005.9 455.9 L1006.8 455.9 L1007.6 455.9 L1008.5 455.9 L1009.3 455.9 L1010.2 455.9 L1011.1 455.9 L1011.9 455.9 L1012.8 455.9 L1013.6 455.9 L1014.5 455.9 L1015.3 455.9 L1016.2 455.9 L1017.0 455.9 L1017.9 455.9 L1018.7 455.9 L1019.6 455.9 L1020.5 455.9 L1021.3 455.9 L1022.2 455.9 L1023.0 455.9 L1023.9 455.9 L1024.7 455.9 L1025.6 455.9 L1026.4 455.9 L1027.3 455.9 L1028.2 455.9 L1029.0 455.9 L1029.9 455.9 L1030.7 455.9 L1031.6 455.9 L1032.4 455.9 L1033.3 455.9 L1034.1 455.9 L1035.0 455.9 L1035.8 455.9 L1036.7 455.9 L1037.6 455.9 L1038.4 455.9 L1039.3 455.9 L1040.1 455.9 L1041.0 455.9 L1041.8 455.9 L1042.7 455.9 L1043.5 455.9 L1044.4 455.9 L1045.2 455.9 L1046.1 455.9 L1047.0 455.9 L1047.8 455.9 L1048.7 455.9 L1049.5 455.9 L1050.4 455.9 L1051.2 455.9 L1052.1 455.9 L1052.9 455.9 L1053.8 455.9 L1054.7 455.9 L1055.5 455.9 L1056.4 455.9 L1057.2 455.9 L1058.1 455.9 L1058.9 455.9 L1059.8 455.9 L1060.6 455.9 L1061.5 455.9 L1062.3 455.9 L1063.2 455.9 L1064.1 455.9 L1064.9 455.9 L1065.8 455.9 L1066.6 455.9 L1067.5 455.9 L1068.3 455.9 L1069.2 455.9 L1070.0 455.9 L1070.9 455.9 L1071.8 455.9 L1072.6 455.9 L1073.5 455.9 L1074.3 455.9 L1075.2 455.9 L1076.0 455.9 L1076.9 455.9 L1077.7 455.9 L1078.6 455.9 L1079.4 455.9 L1080.3 455.9" stroke="#3f8f3f" stroke-width="2.0" fill="none" stroke-linejoin="round" stroke-linecap="round"/>
<ellipse cx="739.2" cy="530.6" rx="5.8" ry="6.2" fill="#00c800" stroke="#00a000" stroke-width="0.8"/>
<ellipse cx="788.5" cy="492.4" rx="5.8" ry="6.2" fill="#00c800" stroke="#00a000" stroke-width="0.8"/>
<ellipse cx="836.8" cy="449.7" rx="5.8" ry="6.2" fill="#00c800" stroke="#00a000" stroke-width="0.8"/>
<ellipse cx="885.4" cy="449.8" rx="5.8" ry="6.2" fill="#00c800" stroke="#00a000" stroke-width="0.8"/>
<ellipse cx="934.2" cy="432.5" rx="5.8" ry="6.2" fill="#00c800" stroke="#00a000" stroke-width="0.8"/>
<ellipse cx="982.9" cy="453.7" rx="5.8" ry="6.2" fill="#00c800" stroke="#00a000" stroke-width="0.8"/>
<ellipse cx="1031.5" cy="478.1" rx="5.8" ry="6.2" fill="#00c800" stroke="#00a000" stroke-width="0.8"/>
<ellipse cx="1080.3" cy="471.4" rx="5.8" ry="6.2" fill="#00c800" stroke="#00a000" stroke-width="0.8"/>
<g stroke="#000" stroke-width="2.2" fill="none" stroke-linecap="butt">
<path d="M1170.1 405.9 V694.6"/>
<path d="M1169.0 693.5 H1578.7"/>
<path d="M1158.3 407.0 H1170.1"/>
<path d="M1158.3 473.5 H1170.1"/>
<path d="M1158.3 538.2 H1170.1"/>
<path d="M1158.3 602.6 H1170.1"/>
<path d="M1158.3 666.8 H1170.1"/>
<path d="M1170.1 693.5 V706.5"/>
<path d="M1252.1 693.5 V705.5"/>
<path d="M1334.0 693.5 V705.5"/>
<path d="M1414.3 693.5 V705.5"/>
<path d="M1495.6 693.5 V705.5"/>
<path d="M1577.0 693.5 V705.5"/>
</g>
<text x="1120.37" y="414.04" font-size="21.3" font-weight="bold" textLength="34.12" lengthAdjust="spacingAndGlyphs" fill="#000">200</text>
<text x="1120.37" y="480.54" font-size="21.3" font-weight="bold" textLength="34.12" lengthAdjust="spacingAndGlyphs" fill="#000">150</text>
<text x="1120.37" y="545.24" font-size="21.3" font-weight="bold" textLength="34.12" lengthAdjust="spacingAndGlyphs" fill="#000">100</text>
<text x="1131.77" y="609.64" font-size="21.3" font-weight="bold" textLength="22.75" lengthAdjust="spacingAndGlyphs" fill="#000">50</text>
<text x="1143.12" y="673.84" font-size="21.3" font-weight="bold" textLength="11.37" lengthAdjust="spacingAndGlyphs" fill="#000">0</text>
<text x="1144.16" y="728.30" font-size="21.3" font-weight="bold" textLength="49.84" lengthAdjust="spacingAndGlyphs" fill="#000">0.001</text>
<text x="1231.71" y="728.30" font-size="21.3" font-weight="bold" textLength="38.76" lengthAdjust="spacingAndGlyphs" fill="#000">0.01</text>
<text x="1319.13" y="728.30" font-size="21.3" font-weight="bold" textLength="27.69" lengthAdjust="spacingAndGlyphs" fill="#000">0.1</text>
<text x="1407.50" y="728.30" font-size="21.3" font-weight="bold" textLength="11.08" lengthAdjust="spacingAndGlyphs" fill="#000">1</text>
<text x="1483.40" y="728.30" font-size="21.3" font-weight="bold" textLength="22.15" lengthAdjust="spacingAndGlyphs" fill="#000">10</text>
<text x="1559.25" y="728.30" font-size="21.3" font-weight="bold" textLength="33.23" lengthAdjust="spacingAndGlyphs" fill="#000">100</text>
<text transform="translate(1106.70,656.69) rotate(-90)" x="0" y="0" font-size="23.5" font-weight="bold" textLength="213.51" lengthAdjust="spacingAndGlyphs">Percent of Control</text>
<text x="1283.43" y="764.80" font-size="23.5" font-weight="bold" textLength="177.96" lengthAdjust="spacingAndGlyphs" fill="#000">Pyrazofurin [µM]</text>
<path d="M1210.1 528.0 V540.5 M1204.1 528.0 H1216.1 M1204.1 540.5 H1216.1" stroke="#1a14a8" stroke-width="2.2" fill="none"/>
<path d="M1356.8 548.0 V567.0 M1350.8 548.0 H1362.8 M1350.8 567.0 H1362.8" stroke="#1a14a8" stroke-width="2.2" fill="none"/>
<path d="M1406.2 564.6 V601.2 M1400.2 564.6 H1412.2 M1400.2 601.2 H1412.2" stroke="#1a14a8" stroke-width="2.2" fill="none"/>
<path d="M1503.7 586.5 V623.7 M1497.7 586.5 H1509.7 M1497.7 623.7 H1509.7" stroke="#1a14a8" stroke-width="2.2" fill="none"/>
<path d="M1210.1 534.4 L1213.0 534.4 L1215.9 534.4 L1218.7 534.5 L1221.6 534.5 L1224.5 534.6 L1227.4 534.7 L1230.3 534.8 L1233.1 534.9 L1236.0 535.1 L1238.9 535.2 L1241.8 535.3 L1244.7 535.5 L1247.5 535.7 L1250.4 535.8 L1253.3 536.0 L1256.2 536.2 L1259.1 536.3 L1262.0 536.5 L1264.8 536.8 L1267.7 537.1 L1270.6 537.4 L1273.5 537.7 L1276.4 538.1 L1279.2 538.5 L1282.1 538.9 L1285.0 539.3 L1287.9 539.7 L1290.8 540.2 L1293.6 540.6 L1296.5 541.1 L1299.4 541.6 L1302.3 542.1 L1305.2 542.6 L1308.0 543.1 L1310.9 543.6 L1313.8 544.2 L1316.7 544.8 L1319.6 545.4 L1322.4 546.0 L1325.3 546.6 L1328.2 547.3 L1331.1 548.0 L1334.0 548.7 L1336.8 549.5 L1339.7 550.2 L1342.6 551.0 L1345.5 551.8 L1348.4 552.6 L1351.3 553.4 L1354.1 554.2 L1357.0 555.1 L1359.9 555.9 L1362.8 556.8 L1365.7 557.8 L1368.5 558.8 L1371.4 559.8 L1374.3 560.8 L1377.2 561.9 L1380.1 563.0 L1382.9 564.1 L1385.8 565.2 L1388.7 566.3 L1391.6 567.5 L1394.5 568.7 L1397.3 569.9 L1400.2 571.1 L1403.1 572.3 L1406.0 573.5 L1408.9 574.7 L1411.7 576.0 L1414.6 577.3 L1417.5 578.7 L1420.4 580.0 L1423.3 581.4 L1426.2 582.8 L1429.0 584.2 L1431.9 585.7 L1434.8 587.1 L1437.7 588.6 L1440.6 590.0 L1443.4 591.4 L1446.3 592.9 L1449.2 594.3 L1452.1 595.7 L1455.0 597.2 L1457.8 598.6 L1460.7 600.1 L1463.6 601.6 L1466.5 603.1 L1469.4 604.6 L1472.2 606.1 L1475.1 607.6 L1478.0 609.1 L1480.9 610.6 L1483.8 612.1 L1486.6 613.5 L1489.5 615.0 L1492.4 616.4 L1495.3 617.8 L1498.2 619.2 L1501.0 620.6 L1503.9 622.0 L1506.8 623.3 L1509.7 624.6 L1512.6 625.9 L1515.5 627.2 L1518.3 628.5 L1521.2 629.8 L1524.1 631.0 L1527.0 632.3 L1529.9 633.5 L1532.7 634.7 L1535.6 636.0 L1538.5 637.2 L1541.4 638.4 L1544.3 639.5 L1547.1 640.7 L1550.0 641.9 L1552.9 643.0" stroke="#3a3090" stroke-width="2.0" fill="none" stroke-linejoin="round" stroke-linecap="round"/>
<rect x="1203.8" y="527.8" width="12.6" height="13.0" rx="1.5" fill="#0000f0" stroke="#0000c0" stroke-width="0.8"/>
<rect x="1252.9" y="523.6" width="12.6" height="13.0" rx="1.5" fill="#0000f0" stroke="#0000c0" stroke-width="0.8"/>
<rect x="1301.6" y="538.8" width="12.6" height="13.0" rx="1.5" fill="#0000f0" stroke="#0000c0" stroke-width="0.8"/>
<rect x="1350.5" y="551.0" width="12.6" height="13.0" rx="1.5" fill="#0000f0" stroke="#0000c0" stroke-width="0.8"/>
<rect x="1399.9" y="576.4" width="12.6" height="13.0" rx="1.5" fill="#0000f0" stroke="#0000c0" stroke-width="0.8"/>
<rect x="1448.6" y="585.5" width="12.6" height="13.0" rx="1.5" fill="#0000f0" stroke="#0000c0" stroke-width="0.8"/>
<rect x="1497.4" y="598.0" width="12.6" height="13.0" rx="1.5" fill="#0000f0" stroke="#0000c0" stroke-width="0.8"/>
<rect x="1546.6" y="654.9" width="12.6" height="13.0" rx="1.5" fill="#0000f0" stroke="#0000c0" stroke-width="0.8"/>
<path d="M1210.1 527.0 V561.1 M1204.1 527.0 H1216.1 M1204.1 561.1 H1216.1" stroke="#45a245" stroke-width="2.2" fill="none"/>
<path d="M1259.2 537.0 V596.2 M1253.2 537.0 H1265.2 M1253.2 596.2 H1265.2" stroke="#45a245" stroke-width="2.2" fill="none"/>
<path d="M1307.9 562.3 V601.5 M1301.9 562.3 H1313.9 M1301.9 601.5 H1313.9" stroke="#45a245" stroke-width="2.2" fill="none"/>
<path d="M1356.8 567.0 V620.2 M1350.8 567.0 H1362.8 M1350.8 620.2 H1362.8" stroke="#45a245" stroke-width="2.2" fill="none"/>
<path d="M1406.2 575.0 V627.3 M1400.2 575.0 H1412.2 M1400.2 627.3 H1412.2" stroke="#45a245" stroke-width="2.2" fill="none"/>
<path d="M1454.9 580.2 V632.8 M1448.9 580.2 H1460.9 M1448.9 632.8 H1460.9" stroke="#45a245" stroke-width="2.2" fill="none"/>
<path d="M1503.7 593.2 V623.6 M1497.7 593.2 H1509.7 M1497.7 623.6 H1509.7" stroke="#45a245" stroke-width="2.2" fill="none"/>
<path d="M1552.9 579.2 V633.4 M1546.9 579.2 H1558.9 M1546.9 633.4 H1558.9" stroke="#45a245" stroke-width="2.2" fill="none"/>
<path d="M1210.1 552.6 L1213.0 553.4 L1215.9 554.1 L1218.7 554.9 L1221.6 555.6 L1224.5 556.4 L1227.4 557.1 L1230.3 557.9 L1233.1 558.6 L1236.0 559.4 L1238.9 560.1 L1241.8 560.9 L1244.7 561.6 L1247.5 562.4 L1250.4 563.1 L1253.3 563.9 L1256.2 564.6 L1259.1 565.4 L1262.0 566.1 L1264.8 566.9 L1267.7 567.6 L1270.6 568.4 L1273.5 569.2 L1276.4 570.0 L1279.2 570.7 L1282.1 571.5 L1285.0 572.3 L1287.9 573.1 L1290.8 573.8 L1293.6 574.6 L1296.5 575.3 L1299.4 576.0 L1302.3 576.7 L1305.2 577.4 L1308.0 578.1 L1310.9 578.7 L1313.8 579.4 L1316.7 580.0 L1319.6 580.6 L1322.4 581.3 L1325.3 581.9 L1328.2 582.5 L1331.1 583.1 L1334.0 583.7 L1336.8 584.3 L1339.7 584.8 L1342.6 585.4 L1345.5 585.9 L1348.4 586.5 L1351.3 587.0 L1354.1 587.5 L1357.0 588.0 L1359.9 588.5 L1362.8 589.0 L1365.7 589.5 L1368.5 589.9 L1371.4 590.4 L1374.3 590.8 L1377.2 591.2 L1380.1 591.6 L1382.9 592.1 L1385.8 592.5 L1388.7 592.9 L1391.6 593.3 L1394.5 593.7 L1397.3 594.1 L1400.2 594.6 L1403.1 595.0 L1406.0 595.5 L1408.9 595.9 L1411.7 596.4 L1414.6 596.9 L1417.5 597.4 L1420.4 597.8 L1423.3 598.3 L1426.2 598.8 L1429.0 599.3 L1431.9 599.8 L1434.8 600.3 L1437.7 600.8 L1440.6 601.3 L1443.4 601.8 L1446.3 602.2 L1449.2 602.7 L1452.1 603.2 L1455.0 603.6 L1457.8 604.1 L1460.7 604.5 L1463.6 604.9 L1466.5 605.4 L1469.4 605.8 L1472.2 606.2 L1475.1 606.6 L1478.0 607.1 L1480.9 607.5 L1483.8 607.9 L1486.6 608.3 L1489.5 608.7 L1492.4 609.1 L1495.3 609.5 L1498.2 609.9 L1501.0 610.3 L1503.9 610.6 L1506.8 611.0 L1509.7 611.4 L1512.6 611.8 L1515.5 612.1 L1518.3 612.5 L1521.2 612.8 L1524.1 613.2 L1527.0 613.5 L1529.9 613.9 L1532.7 614.2 L1535.6 614.6 L1538.5 614.9 L1541.4 615.2 L1544.3 615.6 L1547.1 615.9 L1550.0 616.2 L1552.9 616.5" stroke="#3f8f3f" stroke-width="2.0" fill="none" stroke-linejoin="round" stroke-linecap="round"/>
<ellipse cx="1210.1" cy="544.1" rx="5.8" ry="6.2" fill="#00c800" stroke="#00a000" stroke-width="0.8"/>
<ellipse cx="1259.2" cy="566.6" rx="5.8" ry="6.2" fill="#00c800" stroke="#00a000" stroke-width="0.8"/>
<ellipse cx="1307.9" cy="582.5" rx="5.8" ry="6.2" fill="#00c800" stroke="#00a000" stroke-width="0.8"/>
<ellipse cx="1356.8" cy="593.4" rx="5.8" ry="6.2" fill="#00c800" stroke="#00a000" stroke-width="0.8"/>
<ellipse cx="1406.2" cy="601.1" rx="5.8" ry="6.2" fill="#00c800" stroke="#00a000" stroke-width="0.8"/>
<ellipse cx="1454.9" cy="606.6" rx="5.8" ry="6.2" fill="#00c800" stroke="#00a000" stroke-width="0.8"/>
<ellipse cx="1503.7" cy="608.4" rx="5.8" ry="6.2" fill="#00c800" stroke="#00a000" stroke-width="0.8"/>
<ellipse cx="1552.9" cy="606.0" rx="5.8" ry="6.2" fill="#00c800" stroke="#00a000" stroke-width="0.8"/>
<g stroke="#000" stroke-width="2.2" fill="none" stroke-linecap="butt">
<path d="M1700.4 406.2 V694.5"/>
<path d="M1699.3 693.4 H2107.5"/>
<path d="M1688.6 407.3 H1700.4"/>
<path d="M1688.6 473.8 H1700.4"/>
<path d="M1688.6 537.9 H1700.4"/>
<path d="M1688.6 602.5 H1700.4"/>
<path d="M1688.6 666.7 H1700.4"/>
<path d="M1700.4 693.4 V706.4"/>
<path d="M1783.2 693.4 V705.4"/>
<path d="M1862.3 693.4 V705.4"/>
<path d="M1944.0 693.4 V705.4"/>
<path d="M2023.8 693.4 V705.4"/>
<path d="M2105.6 693.4 V705.4"/>
</g>
<text x="1650.67" y="414.34" font-size="21.3" font-weight="bold" textLength="34.12" lengthAdjust="spacingAndGlyphs" fill="#000">200</text>
<text x="1650.67" y="480.84" font-size="21.3" font-weight="bold" textLength="34.12" lengthAdjust="spacingAndGlyphs" fill="#000">150</text>
<text x="1650.67" y="544.94" font-size="21.3" font-weight="bold" textLength="34.12" lengthAdjust="spacingAndGlyphs" fill="#000">100</text>
<text x="1662.07" y="609.54" font-size="21.3" font-weight="bold" textLength="22.75" lengthAdjust="spacingAndGlyphs" fill="#000">50</text>
<text x="1673.42" y="673.74" font-size="21.3" font-weight="bold" textLength="11.37" lengthAdjust="spacingAndGlyphs" fill="#000">0</text>
<text x="1674.46" y="728.20" font-size="21.3" font-weight="bold" textLength="49.84" lengthAdjust="spacingAndGlyphs" fill="#000">0.001</text>
<text x="1762.81" y="728.20" font-size="21.3" font-weight="bold" textLength="38.76" lengthAdjust="spacingAndGlyphs" fill="#000">0.01</text>
<text x="1847.43" y="728.20" font-size="21.3" font-weight="bold" textLength="27.69" lengthAdjust="spacingAndGlyphs" fill="#000">0.1</text>
<text x="1937.20" y="728.20" font-size="21.3" font-weight="bold" textLength="11.08" lengthAdjust="spacingAndGlyphs" fill="#000">1</text>
<text x="2011.60" y="728.20" font-size="21.3" font-weight="bold" textLength="22.15" lengthAdjust="spacingAndGlyphs" fill="#000">10</text>
<text x="2087.85" y="728.20" font-size="21.3" font-weight="bold" textLength="33.23" lengthAdjust="spacingAndGlyphs" fill="#000">100</text>
<text transform="translate(1636.30,656.69) rotate(-90)" x="0" y="0" font-size="23.5" font-weight="bold" textLength="213.72" lengthAdjust="spacingAndGlyphs">Percent of Control</text>
<text x="1830.04" y="765.10" font-size="23.5" font-weight="bold" textLength="143.33" lengthAdjust="spacingAndGlyphs" fill="#000">AVN-944 [µM]</text>
<path d="M1739.6 522.5 V548.0 M1733.6 522.5 H1745.6 M1733.6 548.0 H1745.6" stroke="#1a14a8" stroke-width="2.2" fill="none"/>
<path d="M1934.5 580.5 V587.5 M1928.5 580.5 H1940.5 M1928.5 587.5 H1940.5" stroke="#1a14a8" stroke-width="2.2" fill="none"/>
<path d="M1983.2 574.1 V623.4 M1977.2 574.1 H1989.2 M1977.2 623.4 H1989.2" stroke="#1a14a8" stroke-width="2.2" fill="none"/>
<path d="M2031.8 580.2 V607.0 M2025.8 580.2 H2037.8 M2025.8 607.0 H2037.8" stroke="#1a14a8" stroke-width="2.2" fill="none"/>
<path d="M1739.6 539.3 L1742.5 539.3 L1745.3 539.3 L1748.2 539.3 L1751.1 539.4 L1753.9 539.4 L1756.8 539.4 L1759.7 539.5 L1762.5 539.5 L1765.4 539.6 L1768.3 539.7 L1771.1 539.7 L1774.0 539.8 L1776.9 539.9 L1779.7 539.9 L1782.6 540.0 L1785.4 540.1 L1788.3 540.2 L1791.2 540.3 L1794.0 540.4 L1796.9 540.6 L1799.8 540.8 L1802.6 541.0 L1805.5 541.2 L1808.4 541.4 L1811.2 541.7 L1814.1 542.0 L1817.0 542.2 L1819.8 542.5 L1822.7 542.8 L1825.6 543.1 L1828.4 543.5 L1831.3 543.8 L1834.2 544.1 L1837.0 544.4 L1839.9 544.7 L1842.8 545.0 L1845.6 545.4 L1848.5 545.7 L1851.4 546.1 L1854.2 546.5 L1857.1 546.8 L1860.0 547.2 L1862.8 547.7 L1865.7 548.1 L1868.5 548.5 L1871.4 549.0 L1874.3 549.5 L1877.1 550.0 L1880.0 550.6 L1882.9 551.1 L1885.7 551.7 L1888.6 552.3 L1891.5 553.0 L1894.3 553.8 L1897.2 554.6 L1900.1 555.5 L1902.9 556.4 L1905.8 557.3 L1908.7 558.3 L1911.5 559.4 L1914.4 560.4 L1917.3 561.5 L1920.1 562.7 L1923.0 563.8 L1925.9 565.0 L1928.7 566.2 L1931.6 567.4 L1934.5 568.6 L1937.3 569.8 L1940.2 571.1 L1943.1 572.5 L1945.9 573.9 L1948.8 575.4 L1951.7 576.9 L1954.5 578.5 L1957.4 580.1 L1960.2 581.7 L1963.1 583.3 L1966.0 584.9 L1968.8 586.6 L1971.7 588.3 L1974.6 589.9 L1977.4 591.5 L1980.3 593.2 L1983.2 594.8 L1986.0 596.4 L1988.9 598.0 L1991.8 599.7 L1994.6 601.4 L1997.5 603.1 L2000.4 604.8 L2003.2 606.6 L2006.1 608.3 L2009.0 610.0 L2011.8 611.7 L2014.7 613.4 L2017.6 615.1 L2020.4 616.7 L2023.3 618.3 L2026.2 619.9 L2029.0 621.4 L2031.9 622.8 L2034.8 624.3 L2037.6 625.7 L2040.5 627.1 L2043.3 628.5 L2046.2 629.8 L2049.1 631.2 L2051.9 632.5 L2054.8 633.8 L2057.7 635.1 L2060.5 636.3 L2063.4 637.6 L2066.3 638.8 L2069.1 640.0 L2072.0 641.1 L2074.9 642.3 L2077.7 643.4 L2080.6 644.5" stroke="#3a3090" stroke-width="2.0" fill="none" stroke-linejoin="round" stroke-linecap="round"/>
<rect x="1733.3" y="528.8" width="12.6" height="13.0" rx="1.5" fill="#0000f0" stroke="#0000c0" stroke-width="0.8"/>
<rect x="1782.0" y="514.8" width="12.6" height="13.0" rx="1.5" fill="#0000f0" stroke="#0000c0" stroke-width="0.8"/>
<rect x="1830.7" y="528.2" width="12.6" height="13.0" rx="1.5" fill="#0000f0" stroke="#0000c0" stroke-width="0.8"/>
<rect x="1879.4" y="546.5" width="12.6" height="13.0" rx="1.5" fill="#0000f0" stroke="#0000c0" stroke-width="0.8"/>
<rect x="1928.2" y="577.5" width="12.6" height="13.0" rx="1.5" fill="#0000f0" stroke="#0000c0" stroke-width="0.8"/>
<rect x="1976.9" y="592.2" width="12.6" height="13.0" rx="1.5" fill="#0000f0" stroke="#0000c0" stroke-width="0.8"/>
<rect x="2025.5" y="587.1" width="12.6" height="13.0" rx="1.5" fill="#0000f0" stroke="#0000c0" stroke-width="0.8"/>
<rect x="2074.3" y="660.7" width="12.6" height="13.0" rx="1.5" fill="#0000f0" stroke="#0000c0" stroke-width="0.8"/>
<path d="M1739.6 529.2 V555.4 M1733.6 529.2 H1745.6 M1733.6 555.4 H1745.6" stroke="#45a245" stroke-width="2.2" fill="none"/>
<path d="M1788.3 549.3 V582.8 M1782.3 549.3 H1794.3 M1782.3 582.8 H1794.3" stroke="#45a245" stroke-width="2.2" fill="none"/>
<path d="M1837.0 558.4 V596.8 M1831.0 558.4 H1843.0 M1831.0 596.8 H1843.0" stroke="#45a245" stroke-width="2.2" fill="none"/>
<path d="M1885.7 577.9 V602.9 M1879.7 577.9 H1891.7 M1879.7 602.9 H1891.7" stroke="#45a245" stroke-width="2.2" fill="none"/>
<path d="M1934.5 565.0 V624.6 M1928.5 565.0 H1940.5 M1928.5 624.6 H1940.5" stroke="#45a245" stroke-width="2.2" fill="none"/>
<path d="M1983.2 581.4 V631.3 M1977.2 581.4 H1989.2 M1977.2 631.3 H1989.2" stroke="#45a245" stroke-width="2.2" fill="none"/>
<path d="M2031.8 602.0 V626.4 M2025.8 602.0 H2037.8 M2025.8 626.4 H2037.8" stroke="#45a245" stroke-width="2.2" fill="none"/>
<path d="M2080.6 627.7 V647.7 M2074.6 627.7 H2086.6 M2074.6 647.7 H2086.6" stroke="#45a245" stroke-width="2.2" fill="none"/>
<path d="M1739.6 555.4 L1742.5 555.8 L1745.3 556.3 L1748.2 556.8 L1751.1 557.2 L1753.9 557.7 L1756.8 558.1 L1759.7 558.6 L1762.5 559.0 L1765.4 559.5 L1768.3 560.0 L1771.1 560.4 L1774.0 560.9 L1776.9 561.4 L1779.7 561.9 L1782.6 562.3 L1785.4 562.8 L1788.3 563.3 L1791.2 563.8 L1794.0 564.3 L1796.9 564.7 L1799.8 565.2 L1802.6 565.7 L1805.5 566.2 L1808.4 566.7 L1811.2 567.2 L1814.1 567.7 L1817.0 568.2 L1819.8 568.7 L1822.7 569.2 L1825.6 569.7 L1828.4 570.2 L1831.3 570.7 L1834.2 571.3 L1837.0 571.8 L1839.9 572.4 L1842.8 572.9 L1845.6 573.5 L1848.5 574.0 L1851.4 574.6 L1854.2 575.1 L1857.1 575.7 L1860.0 576.3 L1862.8 576.9 L1865.7 577.5 L1868.5 578.1 L1871.4 578.7 L1874.3 579.4 L1877.1 580.0 L1880.0 580.7 L1882.9 581.3 L1885.7 582.0 L1888.6 582.7 L1891.5 583.5 L1894.3 584.2 L1897.2 585.0 L1900.1 585.8 L1902.9 586.6 L1905.8 587.5 L1908.7 588.3 L1911.5 589.2 L1914.4 590.1 L1917.3 590.9 L1920.1 591.8 L1923.0 592.6 L1925.9 593.5 L1928.7 594.3 L1931.6 595.2 L1934.5 596.0 L1937.3 596.8 L1940.2 597.6 L1943.1 598.4 L1945.9 599.2 L1948.8 600.0 L1951.7 600.8 L1954.5 601.6 L1957.4 602.4 L1960.2 603.2 L1963.1 604.0 L1966.0 604.8 L1968.8 605.6 L1971.7 606.3 L1974.6 607.1 L1977.4 607.9 L1980.3 608.6 L1983.2 609.4 L1986.0 610.1 L1988.9 610.9 L1991.8 611.6 L1994.6 612.4 L1997.5 613.1 L2000.4 613.9 L2003.2 614.6 L2006.1 615.3 L2009.0 616.0 L2011.8 616.8 L2014.7 617.5 L2017.6 618.2 L2020.4 618.9 L2023.3 619.6 L2026.2 620.3 L2029.0 620.9 L2031.9 621.6 L2034.8 622.3 L2037.6 622.9 L2040.5 623.6 L2043.3 624.2 L2046.2 624.9 L2049.1 625.5 L2051.9 626.2 L2054.8 626.8 L2057.7 627.4 L2060.5 628.0 L2063.4 628.6 L2066.3 629.3 L2069.1 629.9 L2072.0 630.5 L2074.9 631.0 L2077.7 631.6 L2080.6 632.2" stroke="#3f8f3f" stroke-width="2.0" fill="none" stroke-linejoin="round" stroke-linecap="round"/>
<ellipse cx="1739.6" cy="542.0" rx="5.8" ry="6.2" fill="#00c800" stroke="#00a000" stroke-width="0.8"/>
<ellipse cx="1788.3" cy="565.7" rx="5.8" ry="6.2" fill="#00c800" stroke="#00a000" stroke-width="0.8"/>
<ellipse cx="1837.0" cy="577.9" rx="5.8" ry="6.2" fill="#00c800" stroke="#00a000" stroke-width="0.8"/>
<ellipse cx="1885.7" cy="590.7" rx="5.8" ry="6.2" fill="#00c800" stroke="#00a000" stroke-width="0.8"/>
<ellipse cx="1934.5" cy="595.4" rx="5.8" ry="6.2" fill="#00c800" stroke="#00a000" stroke-width="0.8"/>
<ellipse cx="1983.2" cy="607.0" rx="5.8" ry="6.2" fill="#00c800" stroke="#00a000" stroke-width="0.8"/>
<ellipse cx="2031.8" cy="613.0" rx="5.8" ry="6.2" fill="#00c800" stroke="#00a000" stroke-width="0.8"/>
<ellipse cx="2080.6" cy="638.0" rx="5.8" ry="6.2" fill="#00c800" stroke="#00a000" stroke-width="0.8"/>
<path d="M127.7 824.6 H1742.5" stroke="#d6d6d6" stroke-width="2.0"/>
<path d="M127.7 868.9 H367.8" stroke="#d6d6d6" stroke-width="2.0"/>
<path d="M127.7 915.0 H367.8" stroke="#d6d6d6" stroke-width="2.0"/>
<path d="M127.7 961.8 H1742.5" stroke="#d6d6d6" stroke-width="2.0"/>
<path d="M127.7 1008.6 H1742.5" stroke="#d6d6d6" stroke-width="2.0"/>
<path d="M127.7 1054.8 H1742.5" stroke="#d6d6d6" stroke-width="2.0"/>
<path d="M127.7 1101.8 H1742.5" stroke="#d6d6d6" stroke-width="2.0"/>
<path d="M127.7 1148.0 H367.8" stroke="#d6d6d6" stroke-width="2.0"/>
<path d="M127.7 824.6 V1150.0" stroke="#d6d6d6" stroke-width="2.0"/>
<path d="M367.4 824.6 V868.9" stroke="#d6d6d6" stroke-width="2.0"/>
<path d="M890.8 824.6 V868.9" stroke="#d6d6d6" stroke-width="2.0"/>
<path d="M1032.6 824.6 V868.9" stroke="#d6d6d6" stroke-width="2.0"/>
<path d="M1174.6 824.6 V868.9" stroke="#d6d6d6" stroke-width="2.0"/>
<path d="M1316.1 824.6 V868.9" stroke="#d6d6d6" stroke-width="2.0"/>
<path d="M1458.4 824.6 V868.9" stroke="#d6d6d6" stroke-width="2.0"/>
<path d="M1600.4 824.6 V868.9" stroke="#d6d6d6" stroke-width="2.0"/>
<path d="M1742.5 824.6 V868.9" stroke="#d6d6d6" stroke-width="2.0"/>
<path d="M749.0 868.9 V915.0" stroke="#d6d6d6" stroke-width="2.0"/>
<path d="M1174.6 868.9 V915.0" stroke="#d6d6d6" stroke-width="2.0"/>
<path d="M1600.4 868.9 V915.0" stroke="#d6d6d6" stroke-width="2.0"/>
<path d="M606.8 915.0 V1148.0" stroke="#d6d6d6" stroke-width="2.0"/>
<path d="M749.0 915.0 V1148.0" stroke="#d6d6d6" stroke-width="2.0"/>
<path d="M1032.6 915.0 V1148.0" stroke="#d6d6d6" stroke-width="2.0"/>
<path d="M1174.6 915.0 V1148.0" stroke="#d6d6d6" stroke-width="2.0"/>
<path d="M1458.4 915.0 V1148.0" stroke="#d6d6d6" stroke-width="2.0"/>
<path d="M1600.4 915.0 V1148.0" stroke="#d6d6d6" stroke-width="2.0"/>
<path d="M366.7 868.9 H1743.5" stroke="#000" stroke-width="2.3"/>
<path d="M367.8 915.2 H606.8" stroke="#000" stroke-width="2.3"/>
<path d="M890.8 915.2 H1032.6" stroke="#000" stroke-width="2.3"/>
<path d="M1316.1 915.2 H1458.4" stroke="#000" stroke-width="2.3"/>
<path d="M606.8 914.4 H890.8" stroke="#000" stroke-width="3.6"/>
<path d="M1032.6 914.4 H1316.1" stroke="#000" stroke-width="3.6"/>
<path d="M1458.4 914.4 H1742.4" stroke="#000" stroke-width="3.6"/>
<path d="M366.7 1148.0 H1743.5" stroke="#000" stroke-width="2.3"/>
<path d="M367.8 867.8 V1149.1" stroke="#000" stroke-width="2.3"/>
<path d="M890.8 867.8 V1149.1" stroke="#000" stroke-width="2.3"/>
<path d="M1316.1 867.8 V1149.1" stroke="#000" stroke-width="2.3"/>
<path d="M1742.4 867.8 V1149.1" stroke="#000" stroke-width="2.3"/>
<path d="M606.8 868.9 V915.0" stroke="#000" stroke-width="2.3"/>
<path d="M1032.6 868.9 V915.0" stroke="#000" stroke-width="2.3"/>
<path d="M1458.4 868.9 V915.0" stroke="#000" stroke-width="2.3"/>
<text x="131.23" y="858.40" font-size="27" font-weight="bold" textLength="234.38" lengthAdjust="spacingAndGlyphs" fill="#000">SARS-CoV-2 WA1</text>
<text x="606.32" y="858.40" font-size="27" font-weight="bold" textLength="146.74" lengthAdjust="spacingAndGlyphs" fill="#000">A549-ACE2</text>
<text x="1059.42" y="858.60" font-size="27" font-weight="bold" textLength="90.36" lengthAdjust="spacingAndGlyphs" fill="#000">Caco-2</text>
<text x="1481.43" y="858.60" font-size="27" font-weight="bold" textLength="95.83" lengthAdjust="spacingAndGlyphs" fill="#000">Huh7.5</text>
<text x="455.01" y="902.80" font-size="27" font-weight="bold" textLength="65.00" lengthAdjust="spacingAndGlyphs" fill="#000">EC50</text>
<text x="929.09" y="902.80" font-size="27" font-weight="bold" textLength="65.63" lengthAdjust="spacingAndGlyphs" fill="#000">EC50</text>
<text x="1355.11" y="902.80" font-size="27" font-weight="bold" textLength="65.21" lengthAdjust="spacingAndGlyphs" fill="#000">EC50</text>
<text x="646.65" y="902.80" font-size="27" font-weight="bold" textLength="66.98" lengthAdjust="spacingAndGlyphs" fill="#000">CC50</text>
<text x="1071.96" y="902.80" font-size="27" font-weight="bold" textLength="66.36" lengthAdjust="spacingAndGlyphs" fill="#000">CC50</text>
<text x="1497.35" y="902.80" font-size="27" font-weight="bold" textLength="67.18" lengthAdjust="spacingAndGlyphs" fill="#000">CC50</text>
<text x="807.30" y="902.80" font-size="27" font-weight="bold" textLength="24.05" lengthAdjust="spacingAndGlyphs" fill="#000">SI</text>
<text x="1233.00" y="902.80" font-size="27" font-weight="bold" textLength="24.16" lengthAdjust="spacingAndGlyphs" fill="#000">SI</text>
<text x="1658.16" y="902.80" font-size="27" font-weight="bold" textLength="25.27" lengthAdjust="spacingAndGlyphs" fill="#000">SI</text>
<text x="172.49" y="951.50" font-size="27" font-weight="bold" textLength="148.51" lengthAdjust="spacingAndGlyphs" fill="#000">remdesivir</text>
<text x="159.19" y="998.40" font-size="27" font-weight="bold" textLength="178.03" lengthAdjust="spacingAndGlyphs" fill="#000">molnupiravir</text>
<text x="159.26" y="1044.90" font-size="27" font-weight="bold" textLength="175.03" lengthAdjust="spacingAndGlyphs" fill="#000">BAY-2402234</text>
<text x="179.58" y="1091.50" font-size="27" font-weight="bold" textLength="135.94" lengthAdjust="spacingAndGlyphs" fill="#000">brequinar</text>
<text x="189.66" y="1138.40" font-size="27" font-weight="bold" textLength="119.25" lengthAdjust="spacingAndGlyphs" fill="#000">AVN-944</text>
<text x="447.88" y="951.00" font-size="28" font-weight="normal" textLength="81.34" lengthAdjust="spacingAndGlyphs" fill="#000">0.010</text>
<text x="465.87" y="997.90" font-size="28" font-weight="normal" textLength="44.92" lengthAdjust="spacingAndGlyphs" fill="#000">4.4</text>
<text x="434.50" y="1044.40" font-size="28" font-weight="normal" textLength="106.10" lengthAdjust="spacingAndGlyphs" fill="#000">&lt; 0.003</text>
<text x="438.70" y="1091.00" font-size="28" font-weight="normal" textLength="97.84" lengthAdjust="spacingAndGlyphs" fill="#000">0.0500</text>
<text x="456.99" y="1137.90" font-size="28" font-weight="normal" textLength="61.83" lengthAdjust="spacingAndGlyphs" fill="#000">4.75</text>
<text x="647.50" y="951.00" font-size="28" font-weight="normal" textLength="62.55" lengthAdjust="spacingAndGlyphs" fill="#000">&gt; 10</text>
<text x="648.30" y="997.90" font-size="28" font-weight="normal" textLength="62.55" lengthAdjust="spacingAndGlyphs" fill="#000">&gt; 50</text>
<text x="648.30" y="1044.40" font-size="28" font-weight="normal" textLength="62.55" lengthAdjust="spacingAndGlyphs" fill="#000">&gt; 50</text>
<text x="648.30" y="1091.00" font-size="28" font-weight="normal" textLength="62.55" lengthAdjust="spacingAndGlyphs" fill="#000">&gt; 50</text>
<text x="655.73" y="1137.90" font-size="28" font-weight="normal" textLength="45.74" lengthAdjust="spacingAndGlyphs" fill="#000">1.7</text>
<text x="783.86" y="951.00" font-size="28" font-weight="normal" textLength="71.39" lengthAdjust="spacingAndGlyphs" fill="#000">&gt; 777</text>
<text x="804.61" y="997.90" font-size="28" font-weight="normal" textLength="33.13" lengthAdjust="spacingAndGlyphs" fill="#000">11</text>
<text x="769.48" y="1044.40" font-size="28" font-weight="normal" textLength="101.45" lengthAdjust="spacingAndGlyphs" fill="#000">&gt; 16667</text>
<text x="777.90" y="1091.00" font-size="28" font-weight="normal" textLength="84.51" lengthAdjust="spacingAndGlyphs" fill="#000">&gt; 1043</text>
<text x="811.25" y="1137.90" font-size="28" font-weight="normal" textLength="19.67" lengthAdjust="spacingAndGlyphs" fill="#000">1</text>
<text x="933.32" y="951.50" font-size="27" font-weight="normal" textLength="55.83" lengthAdjust="spacingAndGlyphs" fill="#000">0.03</text>
<text x="933.43" y="998.40" font-size="27" font-weight="normal" textLength="57.05" lengthAdjust="spacingAndGlyphs" fill="#000">22.6</text>
<text x="937.75" y="1044.90" font-size="27" font-weight="normal" textLength="48.36" lengthAdjust="spacingAndGlyphs" fill="#000">&gt;20</text>
<text x="937.75" y="1091.50" font-size="27" font-weight="normal" textLength="48.36" lengthAdjust="spacingAndGlyphs" fill="#000">&gt;50</text>
<text x="947.73" y="1138.40" font-size="27" font-weight="normal" textLength="31.61" lengthAdjust="spacingAndGlyphs" fill="#000">39</text>
<text x="1089.31" y="951.50" font-size="27" font-weight="normal" textLength="31.05" lengthAdjust="spacingAndGlyphs" fill="#000">&gt;4</text>
<text x="1079.69" y="998.40" font-size="27" font-weight="normal" textLength="46.89" lengthAdjust="spacingAndGlyphs" fill="#000">&gt;50</text>
<text x="1079.69" y="1044.90" font-size="27" font-weight="normal" textLength="46.89" lengthAdjust="spacingAndGlyphs" fill="#000">&gt;20</text>
<text x="1079.69" y="1091.50" font-size="27" font-weight="normal" textLength="46.89" lengthAdjust="spacingAndGlyphs" fill="#000">&gt;50</text>
<text x="1079.69" y="1138.40" font-size="27" font-weight="normal" textLength="46.89" lengthAdjust="spacingAndGlyphs" fill="#000">&gt;50</text>
<text x="1214.78" y="951.50" font-size="27" font-weight="normal" textLength="62.71" lengthAdjust="spacingAndGlyphs" fill="#000">&gt;136</text>
<text x="1231.60" y="998.40" font-size="27" font-weight="normal" textLength="31.31" lengthAdjust="spacingAndGlyphs" fill="#000">&gt;2</text>
<text x="1237.57" y="1044.90" font-size="27" font-weight="normal" textLength="15.82" lengthAdjust="spacingAndGlyphs" fill="#000">1</text>
<text x="1237.57" y="1091.50" font-size="27" font-weight="normal" textLength="15.82" lengthAdjust="spacingAndGlyphs" fill="#000">1</text>
<text x="1237.57" y="1138.40" font-size="27" font-weight="normal" textLength="15.82" lengthAdjust="spacingAndGlyphs" fill="#000">1</text>
<text x="1352.03" y="951.50" font-size="27" font-weight="normal" textLength="71.69" lengthAdjust="spacingAndGlyphs" fill="#000">0.003</text>
<text x="1368.13" y="998.40" font-size="27" font-weight="normal" textLength="40.96" lengthAdjust="spacingAndGlyphs" fill="#000">6.8</text>
<text x="1352.73" y="1044.90" font-size="27" font-weight="normal" textLength="71.53" lengthAdjust="spacingAndGlyphs" fill="#000">0.001</text>
<text x="1368.01" y="1091.50" font-size="27" font-weight="normal" textLength="40.57" lengthAdjust="spacingAndGlyphs" fill="#000">0.5</text>
<text x="1367.99" y="1138.40" font-size="27" font-weight="normal" textLength="41.10" lengthAdjust="spacingAndGlyphs" fill="#000">0.8</text>
<text x="1514.44" y="951.50" font-size="27" font-weight="normal" textLength="32.55" lengthAdjust="spacingAndGlyphs" fill="#000">&gt;4</text>
<text x="1506.41" y="998.40" font-size="27" font-weight="normal" textLength="46.15" lengthAdjust="spacingAndGlyphs" fill="#000">&gt;50</text>
<text x="1506.41" y="1044.90" font-size="27" font-weight="normal" textLength="46.15" lengthAdjust="spacingAndGlyphs" fill="#000">&gt;20</text>
<text x="1506.41" y="1091.50" font-size="27" font-weight="normal" textLength="46.15" lengthAdjust="spacingAndGlyphs" fill="#000">&gt;50</text>
<text x="1501.13" y="1138.40" font-size="27" font-weight="normal" textLength="55.73" lengthAdjust="spacingAndGlyphs" fill="#000">0.46</text>
<text x="1631.57" y="951.50" font-size="27" font-weight="normal" textLength="78.59" lengthAdjust="spacingAndGlyphs" fill="#000">&gt;1271</text>
<text x="1656.80" y="998.40" font-size="27" font-weight="normal" textLength="31.31" lengthAdjust="spacingAndGlyphs" fill="#000">&gt;7</text>
<text x="1625.37" y="1044.90" font-size="27" font-weight="normal" textLength="94.04" lengthAdjust="spacingAndGlyphs" fill="#000">&gt;20000</text>
<text x="1641.80" y="1091.50" font-size="27" font-weight="normal" textLength="61.77" lengthAdjust="spacingAndGlyphs" fill="#000">&gt;983</text>
<text x="1664.17" y="1138.40" font-size="27" font-weight="normal" textLength="15.82" lengthAdjust="spacingAndGlyphs" fill="#000">1</text>
</svg></div>
</body></html>
